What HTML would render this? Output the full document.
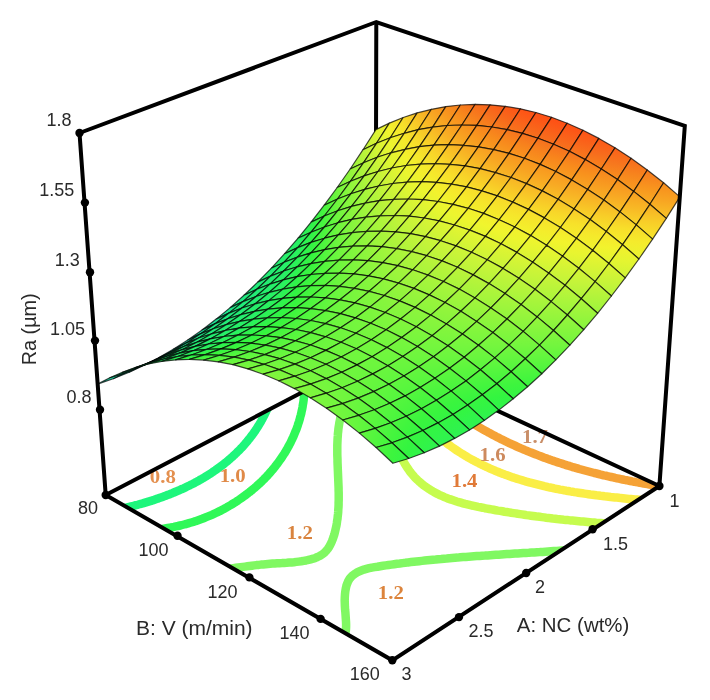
<!DOCTYPE html>
<html><head><meta charset="utf-8"><style>
html,body{margin:0;padding:0;background:#fff;}
svg{display:block;filter:blur(0.35px);}
</style></head><body>
<svg width="710" height="700" viewBox="0 0 710 700">
<rect width="710" height="700" fill="#fff"/>
<clipPath id="floor"><polygon points="105.7,495 392.3,660.3 659.4,486 375.5,354"/></clipPath>
<g fill="none" stroke-width="8.5" stroke-linecap="butt" stroke-linejoin="round" clip-path="url(#floor)">
<path d="M121.6,508.9 L129.3,506.9 L131.0,506.5 L132.7,506.1 L134.3,505.7 L136.0,505.2 L137.7,504.8 L139.3,504.3 L141.0,503.8 L142.7,503.4 L144.3,502.9 L146.0,502.4 L147.6,501.9 L149.3,501.4 L151.0,500.9 L152.6,500.3 L154.3,499.8 L155.9,499.2 L157.6,498.7 L159.2,498.1 L160.9,497.5 L162.5,496.9 L164.2,496.3 L165.8,495.7 L167.4,495.1 L169.1,494.5 L170.7,493.8 L172.3,493.2 L173.9,492.5 L175.6,491.8 L177.2,491.1 L178.8,490.5 L180.4,489.7 L182.0,489.0 L183.6,488.3 L185.1,487.6 L186.7,486.8 L188.3,486.0 L189.8,485.3 L191.4,484.5 L193.0,483.7 L194.5,482.9 L196.0,482.1 L197.6,481.2 L199.1,480.4 L200.6,479.5 L202.1,478.7 L203.6,477.8 L205.1,476.9 L206.6,476.0 L208.0,475.1 L209.5,474.2 L211.0,473.2 L212.4,472.3 L213.8,471.3 L215.3,470.3 L216.7,469.3 L218.1,468.3 L219.5,467.3 L220.9,466.3 L222.2,465.2 L223.6,464.2 L224.9,463.1 L226.3,462.0 L227.6,460.9 L228.9,459.8 L230.2,458.7 L231.5,457.5 L232.8,456.4 L234.1,455.2 L235.3,454.0 L236.6,452.8 L237.8,451.6 L239.0,450.4 L240.2,449.2 L241.4,447.9 L242.6,446.7 L243.7,445.4 L244.9,444.1 L246.0,442.8 L247.1,441.5 L248.2,440.1 L249.3,438.8 L250.4,437.4 L251.4,436.0 L252.5,434.6 L253.5,433.2 L254.5,431.8 L255.5,430.3 L256.5,428.9 L257.4,427.4 L258.4,425.9 L259.3,424.4 L260.2,422.9 L261.1,421.3 L261.9,419.8 L262.8,418.2 L263.6,416.6 L264.4,415.0 L265.2,413.4 L266.0,411.7 L269.5,404.5" stroke="#1ef67c"/>
<path d="M159.9,529.4 L167.8,528.0 L169.8,527.6 L171.9,527.3 L173.9,526.9 L176.0,526.4 L178.0,526.0 L180.1,525.5 L182.1,525.0 L184.1,524.5 L186.2,524.0 L188.2,523.4 L190.2,522.8 L192.2,522.2 L194.2,521.6 L196.2,520.9 L198.2,520.2 L200.2,519.5 L202.2,518.8 L204.2,518.0 L206.1,517.2 L208.1,516.4 L210.0,515.6 L211.9,514.8 L213.9,513.9 L215.8,513.0 L217.7,512.1 L219.6,511.2 L221.4,510.2 L223.3,509.2 L225.1,508.2 L227.0,507.2 L228.8,506.1 L230.6,505.1 L232.4,504.0 L234.2,502.9 L236.0,501.8 L237.8,500.6 L239.5,499.4 L241.2,498.2 L242.9,497.0 L244.6,495.8 L246.3,494.5 L248.0,493.3 L249.6,492.0 L251.3,490.7 L252.9,489.3 L254.5,488.0 L256.1,486.6 L257.6,485.2 L259.2,483.8 L260.7,482.4 L262.2,480.9 L263.7,479.5 L265.1,478.0 L266.6,476.5 L268.0,475.0 L269.4,473.4 L270.7,471.9 L272.1,470.3 L273.4,468.7 L274.7,467.1 L276.0,465.4 L277.3,463.8 L278.5,462.1 L279.7,460.4 L280.9,458.7 L282.1,457.0 L283.2,455.3 L284.4,453.5 L285.4,451.8 L286.5,450.0 L287.5,448.2 L288.5,446.4 L289.5,444.5 L290.5,442.7 L291.4,440.8 L292.3,438.9 L293.2,437.0 L294.0,435.1 L294.8,433.2 L295.6,431.2 L296.4,429.3 L297.1,427.3 L297.8,425.3 L298.4,423.3 L299.1,421.3 L299.7,419.3 L300.2,417.2 L300.8,415.1 L301.3,413.1 L301.7,411.0 L302.2,408.9 L302.6,406.7 L302.9,404.6 L303.3,402.5 L303.6,400.3 L303.8,398.1 L304.1,395.9 L304.3,393.7 L304.4,391.5 L305.0,383.5" stroke="#30f858"/>
<path d="M341.3,412.3 L339.9,420.2 L339.4,422.4 L339.1,424.6 L338.7,426.9 L338.4,429.1 L338.2,431.4 L337.9,433.7 L337.8,436.0 L337.6,438.3 L337.5,440.6 L337.4,442.9 L337.3,445.3 L337.3,447.6 L337.3,450.0 L337.3,452.3 L337.3,454.7 L337.4,457.1 L337.5,459.4 L337.5,461.8 L337.6,464.2 L337.7,466.6 L337.8,469.0 L337.9,471.4 L338.0,473.8 L338.1,476.2 L338.2,478.6 L338.3,481.0 L338.4,483.4 L338.5,485.8 L338.6,488.2 L338.6,490.5 L338.7,492.9 L338.7,495.3 L338.7,497.7 L338.7,500.1 L338.6,502.4 L338.6,504.8 L338.5,507.2 L338.3,509.5 L338.2,511.8 L338.0,514.2 L337.7,516.5 L337.5,518.8 L337.1,521.1 L336.8,523.4 L336.4,525.7 L335.9,527.9 L335.4,530.2 L334.9,532.4 L334.3,534.6 L333.6,536.8 L332.8,539.0 L332.0,541.1 L331.1,543.2 L330.1,545.2 L329.0,547.1 L327.8,548.9 L326.4,550.6 L324.9,552.2 L323.3,553.6 L321.5,554.9 L319.6,556.0 L317.5,557.0 L315.4,557.9 L313.1,558.7 L310.8,559.3 L308.5,559.9 L306.1,560.5 L303.7,560.9 L301.3,561.3 L298.8,561.6 L296.4,561.9 L294.0,562.2 L291.6,562.4 L289.2,562.6 L286.7,562.8 L284.3,562.9 L282.0,563.1 L279.6,563.2 L277.2,563.3 L274.8,563.5 L272.5,563.6 L270.2,563.8 L267.9,564.0 L265.6,564.2 L263.3,564.4 L261.0,564.6 L258.7,564.9 L256.5,565.1 L254.2,565.4 L251.9,565.7 L249.7,566.0 L247.4,566.3 L245.1,566.6 L242.8,566.9 L240.4,567.2 L238.1,567.5 L235.7,567.8 L233.3,568.1 L230.9,568.4 L223.0,569.5" stroke="#80f862"/>
<path d="M344.2,641.7 L345.3,633.8 L345.7,631.7 L346.0,629.3 L346.1,626.8 L346.1,624.2 L346.0,621.5 L345.8,618.6 L345.6,615.7 L345.4,612.7 L345.1,609.7 L344.9,606.6 L344.8,603.5 L344.7,600.4 L344.8,597.3 L345.0,594.3 L345.3,591.4 L345.8,588.5 L346.4,585.8 L347.3,583.3 L348.3,580.9 L349.6,578.8 L351.1,577.0 L352.8,575.3 L354.8,573.8 L356.8,572.6 L359.0,571.4 L361.4,570.5 L363.9,569.6 L366.4,568.9 L369.1,568.2 L371.8,567.6 L374.6,567.1 L377.4,566.7 L380.2,566.2 L383.0,565.8 L385.8,565.4 L388.6,565.0 L391.4,564.6 L394.2,564.2 L397.0,563.8 L399.8,563.5 L402.6,563.1 L405.3,562.8 L408.1,562.4 L410.9,562.1 L413.7,561.8 L416.4,561.5 L419.2,561.2 L421.9,560.9 L424.7,560.6 L427.4,560.3 L430.2,560.0 L432.9,559.7 L435.7,559.5 L438.4,559.2 L441.2,559.0 L443.9,558.7 L446.7,558.5 L449.4,558.2 L452.1,558.0 L454.9,557.8 L457.6,557.6 L460.3,557.3 L463.1,557.1 L465.8,556.9 L468.5,556.7 L471.3,556.5 L474.0,556.3 L476.7,556.1 L479.5,555.9 L482.2,555.7 L484.9,555.6 L487.7,555.4 L490.4,555.2 L493.1,555.0 L495.9,554.8 L498.6,554.7 L501.3,554.5 L504.1,554.3 L506.8,554.1 L509.6,554.0 L512.3,553.8 L515.0,553.6 L517.8,553.5 L520.5,553.3 L523.3,553.1 L526.0,552.9 L528.8,552.8 L531.6,552.6 L534.3,552.4 L537.1,552.2 L539.8,552.1 L542.6,551.9 L545.4,551.7 L548.2,551.5 L550.9,551.3 L553.7,551.1 L556.5,550.9 L559.3,550.7 L562.1,550.5 L570.1,550.0" stroke="#80f862"/>
<path d="M398.8,452.8 L402.7,459.8 L403.8,462.0 L405.0,464.1 L406.2,466.1 L407.5,468.0 L408.8,469.9 L410.1,471.8 L411.5,473.5 L413.0,475.2 L414.4,476.9 L415.9,478.4 L417.5,480.0 L419.1,481.5 L420.7,482.9 L422.3,484.2 L424.0,485.6 L425.7,486.8 L427.5,488.0 L429.3,489.2 L431.1,490.3 L432.9,491.4 L434.8,492.5 L436.6,493.5 L438.6,494.4 L440.5,495.4 L442.4,496.2 L444.4,497.1 L446.4,497.9 L448.4,498.7 L450.5,499.4 L452.5,500.1 L454.6,500.8 L456.7,501.5 L458.8,502.1 L460.9,502.7 L463.0,503.3 L465.2,503.9 L467.3,504.4 L469.5,504.9 L471.7,505.5 L473.8,505.9 L476.0,506.4 L478.2,506.9 L480.4,507.3 L482.6,507.7 L484.8,508.2 L487.0,508.6 L489.2,509.0 L491.4,509.4 L493.6,509.8 L495.8,510.2 L498.0,510.6 L500.2,510.9 L502.4,511.3 L504.6,511.7 L506.8,512.0 L509.0,512.4 L511.2,512.8 L513.4,513.1 L515.6,513.4 L517.8,513.8 L520.0,514.1 L522.1,514.4 L524.3,514.7 L526.5,515.1 L528.7,515.4 L530.9,515.7 L533.1,516.0 L535.3,516.3 L537.5,516.6 L539.7,516.8 L541.8,517.1 L544.0,517.4 L546.2,517.7 L548.4,517.9 L550.6,518.2 L552.8,518.5 L555.0,518.7 L557.1,519.0 L559.3,519.2 L561.5,519.4 L563.7,519.7 L565.9,519.9 L568.0,520.1 L570.2,520.4 L572.4,520.6 L574.6,520.8 L576.7,521.0 L578.9,521.2 L581.1,521.4 L583.3,521.6 L585.4,521.8 L587.6,522.0 L589.8,522.2 L591.9,522.4 L594.1,522.6 L596.3,522.8 L598.4,522.9 L600.6,523.1 L602.8,523.3 L610.8,523.9" stroke="#c6fc4e"/>
<path d="M439.6,437.9 L446.0,442.7 L447.7,444.0 L449.4,445.2 L451.0,446.4 L452.7,447.6 L454.4,448.8 L456.1,450.0 L457.9,451.1 L459.6,452.2 L461.3,453.3 L463.1,454.4 L464.8,455.5 L466.6,456.5 L468.3,457.6 L470.1,458.6 L471.9,459.6 L473.7,460.5 L475.5,461.5 L477.3,462.4 L479.1,463.4 L480.9,464.3 L482.7,465.2 L484.6,466.0 L486.4,466.9 L488.2,467.7 L490.1,468.6 L491.9,469.4 L493.8,470.2 L495.7,471.0 L497.6,471.7 L499.4,472.5 L501.3,473.2 L503.2,473.9 L505.1,474.7 L507.0,475.3 L508.9,476.0 L510.9,476.7 L512.8,477.4 L514.7,478.0 L516.6,478.6 L518.6,479.2 L520.5,479.8 L522.5,480.4 L524.4,481.0 L526.4,481.6 L528.3,482.1 L530.3,482.7 L532.3,483.2 L534.2,483.7 L536.2,484.2 L538.2,484.7 L540.2,485.2 L542.2,485.7 L544.1,486.2 L546.1,486.6 L548.1,487.1 L550.1,487.5 L552.1,487.9 L554.1,488.4 L556.1,488.8 L558.1,489.2 L560.1,489.6 L562.2,489.9 L564.2,490.3 L566.2,490.7 L568.2,491.0 L570.2,491.4 L572.2,491.7 L574.3,492.1 L576.3,492.4 L578.3,492.7 L580.3,493.0 L582.4,493.3 L584.4,493.6 L586.4,493.9 L588.4,494.2 L590.5,494.5 L592.5,494.7 L594.5,495.0 L596.5,495.3 L598.6,495.5 L600.6,495.8 L602.6,496.0 L604.6,496.3 L606.7,496.5 L608.7,496.7 L610.7,497.0 L612.7,497.2 L614.8,497.4 L616.8,497.6 L618.8,497.8 L620.8,498.1 L622.8,498.3 L624.9,498.5 L626.9,498.7 L628.9,498.9 L630.9,499.1 L632.9,499.3 L634.9,499.5 L636.9,499.6 L644.9,500.4" stroke="#faee46"/>
<path d="M469.2,421.2 L476.0,425.3 L477.7,426.3 L479.4,427.3 L481.1,428.3 L482.8,429.3 L484.5,430.3 L486.2,431.2 L487.9,432.2 L489.6,433.1 L491.3,434.0 L493.0,434.9 L494.7,435.8 L496.4,436.7 L498.2,437.6 L499.9,438.5 L501.6,439.4 L503.4,440.2 L505.1,441.1 L506.9,441.9 L508.6,442.8 L510.4,443.6 L512.1,444.4 L513.9,445.2 L515.7,446.0 L517.4,446.8 L519.2,447.6 L521.0,448.4 L522.7,449.1 L524.5,449.9 L526.3,450.6 L528.1,451.4 L529.9,452.1 L531.7,452.8 L533.5,453.5 L535.3,454.2 L537.1,454.9 L538.9,455.6 L540.7,456.3 L542.5,457.0 L544.3,457.7 L546.1,458.3 L548.0,459.0 L549.8,459.6 L551.6,460.3 L553.4,460.9 L555.3,461.5 L557.1,462.1 L558.9,462.7 L560.8,463.3 L562.6,463.9 L564.5,464.5 L566.3,465.1 L568.2,465.7 L570.0,466.2 L571.9,466.8 L573.7,467.3 L575.6,467.9 L577.4,468.4 L579.3,469.0 L581.2,469.5 L583.0,470.0 L584.9,470.5 L586.8,471.0 L588.7,471.5 L590.5,472.0 L592.4,472.5 L594.3,473.0 L596.2,473.4 L598.0,473.9 L599.9,474.4 L601.8,474.8 L603.7,475.3 L605.6,475.7 L607.5,476.2 L609.4,476.6 L611.3,477.0 L613.2,477.4 L615.1,477.9 L617.0,478.3 L618.9,478.7 L620.8,479.1 L622.7,479.5 L624.6,479.9 L626.5,480.2 L628.4,480.6 L630.3,481.0 L632.2,481.4 L634.1,481.7 L636.0,482.1 L637.9,482.4 L639.8,482.8 L641.7,483.1 L643.7,483.5 L645.6,483.8 L647.5,484.1 L649.4,484.5 L651.3,484.8 L653.2,485.1 L655.2,485.4 L657.1,485.7 L665.0,487.0" stroke="#f5a236"/>
</g>
<g font-family="Liberation Serif, serif" font-weight="bold" font-size="18.5" text-anchor="middle" fill="#de8744">
<text x="162.8" y="483.4" fill="#e4904f" textLength="26" lengthAdjust="spacingAndGlyphs">0.8</text>
<text x="232.7" y="482.3" fill="#e08a48" textLength="26" lengthAdjust="spacingAndGlyphs">1.0</text>
<text x="299.8" y="538.9" fill="#d9843f" textLength="26" lengthAdjust="spacingAndGlyphs">1.2</text>
<text x="390.8" y="598.6" fill="#dc843c" textLength="26" lengthAdjust="spacingAndGlyphs">1.2</text>
<text x="464.5" y="487.0" fill="#e07a38" textLength="26" lengthAdjust="spacingAndGlyphs">1.4</text>
<text x="492.6" y="461.4" fill="#cd8a5e" textLength="26" lengthAdjust="spacingAndGlyphs">1.6</text>
<text x="535.0" y="442.8" fill="#c98e68" textLength="26" lengthAdjust="spacingAndGlyphs">1.7</text>
</g>
<path d="M105.7,495.0 L375.5,354.0 L659.4,486.0 M376.3,22.0 L375.5,354.0" stroke="#000" stroke-width="4.0" fill="none" stroke-linejoin="miter"/>
<g stroke="#000" stroke-opacity="0.72" stroke-width="1.2" stroke-linejoin="round">
<defs><linearGradient id="q0" gradientUnits="userSpaceOnUse" x1="360.3" y1="142.1" x2="392.2" y2="130.7"><stop offset="0.00" stop-color="#b9f43a"/><stop offset="0.50" stop-color="#daf434"/><stop offset="1.00" stop-color="#f4ef2c"/></linearGradient>
<linearGradient id="q1" gradientUnits="userSpaceOnUse" x1="347.9" y1="160.1" x2="378.8" y2="152.2"><stop offset="0.00" stop-color="#94f53c"/><stop offset="0.50" stop-color="#b6f43b"/><stop offset="1.00" stop-color="#d6f435"/></linearGradient>
<linearGradient id="q2" gradientUnits="userSpaceOnUse" x1="335.7" y1="177.3" x2="365.1" y2="172.9"><stop offset="0.00" stop-color="#71f63e"/><stop offset="0.50" stop-color="#92f53c"/><stop offset="1.00" stop-color="#b3f43b"/></linearGradient>
<linearGradient id="q3" gradientUnits="userSpaceOnUse" x1="323.7" y1="193.8" x2="351.1" y2="192.6"><stop offset="0.00" stop-color="#46f53e"/><stop offset="0.50" stop-color="#70f63e"/><stop offset="1.00" stop-color="#90f53c"/></linearGradient>
<linearGradient id="q4" gradientUnits="userSpaceOnUse" x1="374.0" y1="138.0" x2="405.8" y2="122.8"><stop offset="0.00" stop-color="#d6f435"/><stop offset="0.50" stop-color="#f3f22d"/><stop offset="1.00" stop-color="#f8d929"/></linearGradient>
<linearGradient id="q5" gradientUnits="userSpaceOnUse" x1="311.9" y1="209.8" x2="336.7" y2="211.4"><stop offset="0.00" stop-color="#2ff34d"/><stop offset="0.50" stop-color="#47f53e"/><stop offset="1.00" stop-color="#70f63e"/></linearGradient>
<linearGradient id="q6" gradientUnits="userSpaceOnUse" x1="361.2" y1="156.1" x2="392.7" y2="144.4"><stop offset="0.00" stop-color="#b3f43b"/><stop offset="0.50" stop-color="#d3f436"/><stop offset="1.00" stop-color="#f1f52d"/></linearGradient>
<linearGradient id="q7" gradientUnits="userSpaceOnUse" x1="348.5" y1="173.3" x2="379.3" y2="165.2"><stop offset="0.00" stop-color="#90f53c"/><stop offset="0.50" stop-color="#b0f43b"/><stop offset="1.00" stop-color="#cff437"/></linearGradient>
<linearGradient id="q8" gradientUnits="userSpaceOnUse" x1="300.2" y1="225.2" x2="322.0" y2="229.1"><stop offset="0.00" stop-color="#28f065"/><stop offset="0.50" stop-color="#30f34b"/><stop offset="1.00" stop-color="#48f53e"/></linearGradient>
<linearGradient id="q9" gradientUnits="userSpaceOnUse" x1="336.1" y1="189.8" x2="365.6" y2="185.2"><stop offset="0.00" stop-color="#70f63e"/><stop offset="0.50" stop-color="#8ff53c"/><stop offset="1.00" stop-color="#adf53b"/></linearGradient>
<linearGradient id="q10" gradientUnits="userSpaceOnUse" x1="388.4" y1="134.8" x2="419.1" y2="116.0"><stop offset="0.00" stop-color="#f1f52d"/><stop offset="0.50" stop-color="#f7e02a"/><stop offset="1.00" stop-color="#f8bb26"/></linearGradient>
<linearGradient id="q11" gradientUnits="userSpaceOnUse" x1="288.6" y1="240.2" x2="307.1" y2="245.7"><stop offset="0.00" stop-color="#25ee6e"/><stop offset="0.50" stop-color="#28f063"/><stop offset="1.00" stop-color="#30f449"/></linearGradient>
<linearGradient id="q12" gradientUnits="userSpaceOnUse" x1="375.2" y1="153.1" x2="406.3" y2="137.4"><stop offset="0.00" stop-color="#cff437"/><stop offset="0.50" stop-color="#ecf52f"/><stop offset="1.00" stop-color="#f6e42b"/></linearGradient>
<linearGradient id="q13" gradientUnits="userSpaceOnUse" x1="323.9" y1="205.5" x2="351.5" y2="204.3"><stop offset="0.00" stop-color="#48f53e"/><stop offset="0.50" stop-color="#70f63e"/><stop offset="1.00" stop-color="#8df53d"/></linearGradient>
<linearGradient id="q14" gradientUnits="userSpaceOnUse" x1="276.8" y1="254.8" x2="292.1" y2="261.1"><stop offset="0.00" stop-color="#23ed76"/><stop offset="0.50" stop-color="#26ef6c"/><stop offset="1.00" stop-color="#29f160"/></linearGradient>
<linearGradient id="q15" gradientUnits="userSpaceOnUse" x1="362.0" y1="170.5" x2="393.2" y2="158.2"><stop offset="0.00" stop-color="#adf53b"/><stop offset="0.50" stop-color="#cbf438"/><stop offset="1.00" stop-color="#e7f530"/></linearGradient>
<linearGradient id="q16" gradientUnits="userSpaceOnUse" x1="311.9" y1="220.6" x2="336.9" y2="222.4"><stop offset="0.00" stop-color="#30f449"/><stop offset="0.50" stop-color="#4af53e"/><stop offset="1.00" stop-color="#70f63e"/></linearGradient>
<linearGradient id="q17" gradientUnits="userSpaceOnUse" x1="349.1" y1="186.9" x2="379.9" y2="178.3"><stop offset="0.00" stop-color="#8df53d"/><stop offset="0.50" stop-color="#abf53b"/><stop offset="1.00" stop-color="#c7f439"/></linearGradient>
<linearGradient id="q18" gradientUnits="userSpaceOnUse" x1="403.4" y1="132.2" x2="432.2" y2="110.3"><stop offset="0.00" stop-color="#f6e42b"/><stop offset="0.50" stop-color="#f8c527"/><stop offset="1.00" stop-color="#f8a222"/></linearGradient>
<linearGradient id="q19" gradientUnits="userSpaceOnUse" x1="264.8" y1="268.9" x2="277.0" y2="275.5"><stop offset="0.00" stop-color="#21ec7d"/><stop offset="0.50" stop-color="#24ed74"/><stop offset="1.00" stop-color="#26ef6a"/></linearGradient>
<linearGradient id="q20" gradientUnits="userSpaceOnUse" x1="300.1" y1="235.2" x2="322.0" y2="239.4"><stop offset="0.00" stop-color="#29f160"/><stop offset="0.50" stop-color="#31f447"/><stop offset="1.00" stop-color="#4bf53e"/></linearGradient>
<linearGradient id="q21" gradientUnits="userSpaceOnUse" x1="389.9" y1="150.8" x2="419.6" y2="131.6"><stop offset="0.00" stop-color="#e7f530"/><stop offset="0.50" stop-color="#f5e92b"/><stop offset="1.00" stop-color="#f8ce28"/></linearGradient>
<linearGradient id="q22" gradientUnits="userSpaceOnUse" x1="336.4" y1="202.5" x2="366.1" y2="197.7"><stop offset="0.00" stop-color="#70f63e"/><stop offset="0.50" stop-color="#8cf53d"/><stop offset="1.00" stop-color="#a8f53b"/></linearGradient>
<linearGradient id="q23" gradientUnits="userSpaceOnUse" x1="252.6" y1="282.5" x2="262.0" y2="288.9"><stop offset="0.00" stop-color="#20e985"/><stop offset="0.50" stop-color="#22ec7a"/><stop offset="1.00" stop-color="#24ee71"/></linearGradient>
<linearGradient id="q24" gradientUnits="userSpaceOnUse" x1="376.4" y1="168.5" x2="406.8" y2="152.3"><stop offset="0.00" stop-color="#c7f439"/><stop offset="0.50" stop-color="#e2f531"/><stop offset="1.00" stop-color="#f4ed2c"/></linearGradient>
<linearGradient id="q25" gradientUnits="userSpaceOnUse" x1="288.3" y1="249.4" x2="306.9" y2="255.3"><stop offset="0.00" stop-color="#26ef6a"/><stop offset="0.50" stop-color="#2af15c"/><stop offset="1.00" stop-color="#32f445"/></linearGradient>
<linearGradient id="q26" gradientUnits="userSpaceOnUse" x1="324.1" y1="217.3" x2="351.9" y2="216.1"><stop offset="0.00" stop-color="#4bf53e"/><stop offset="0.50" stop-color="#6ff63e"/><stop offset="1.00" stop-color="#8af53d"/></linearGradient>
<linearGradient id="q27" gradientUnits="userSpaceOnUse" x1="418.9" y1="130.3" x2="445.3" y2="106.0"><stop offset="0.00" stop-color="#f8ce28"/><stop offset="0.50" stop-color="#f8ab24"/><stop offset="1.00" stop-color="#f88f1d"/></linearGradient>
<linearGradient id="q28" gradientUnits="userSpaceOnUse" x1="363.0" y1="185.1" x2="393.8" y2="172.3"><stop offset="0.00" stop-color="#a8f53b"/><stop offset="0.50" stop-color="#c3f43a"/><stop offset="1.00" stop-color="#ddf533"/></linearGradient>
<linearGradient id="q29" gradientUnits="userSpaceOnUse" x1="240.0" y1="295.5" x2="247.0" y2="301.3"><stop offset="0.00" stop-color="#20e392"/><stop offset="0.50" stop-color="#20eb80"/><stop offset="1.00" stop-color="#23ed78"/></linearGradient>
<linearGradient id="q30" gradientUnits="userSpaceOnUse" x1="276.5" y1="263.2" x2="291.6" y2="270.1"><stop offset="0.00" stop-color="#24ee71"/><stop offset="0.50" stop-color="#27ef69"/><stop offset="1.00" stop-color="#2bf159"/></linearGradient>
<linearGradient id="q31" gradientUnits="userSpaceOnUse" x1="311.9" y1="231.5" x2="337.2" y2="233.6"><stop offset="0.00" stop-color="#32f445"/><stop offset="0.50" stop-color="#4df53e"/><stop offset="1.00" stop-color="#6ff63e"/></linearGradient>
<linearGradient id="q32" gradientUnits="userSpaceOnUse" x1="405.1" y1="149.2" x2="432.7" y2="127.1"><stop offset="0.00" stop-color="#f4ed2c"/><stop offset="0.50" stop-color="#f8d729"/><stop offset="1.00" stop-color="#f8b625"/></linearGradient>
<linearGradient id="q33" gradientUnits="userSpaceOnUse" x1="349.8" y1="200.7" x2="380.4" y2="191.7"><stop offset="0.00" stop-color="#8af53d"/><stop offset="0.50" stop-color="#a5f53b"/><stop offset="1.00" stop-color="#c0f43a"/></linearGradient>
<linearGradient id="q34" gradientUnits="userSpaceOnUse" x1="391.4" y1="167.2" x2="420.0" y2="147.6"><stop offset="0.00" stop-color="#ddf533"/><stop offset="0.50" stop-color="#f3f22d"/><stop offset="1.00" stop-color="#f8df2a"/></linearGradient>
<linearGradient id="q35" gradientUnits="userSpaceOnUse" x1="264.4" y1="276.6" x2="276.3" y2="283.7"><stop offset="0.00" stop-color="#23ed78"/><stop offset="0.50" stop-color="#25ee6f"/><stop offset="1.00" stop-color="#27f067"/></linearGradient>
<linearGradient id="q36" gradientUnits="userSpaceOnUse" x1="300.0" y1="245.3" x2="322.0" y2="250.0"><stop offset="0.00" stop-color="#2bf159"/><stop offset="0.50" stop-color="#32f443"/><stop offset="1.00" stop-color="#4ef53e"/></linearGradient>
<linearGradient id="q37" gradientUnits="userSpaceOnUse" x1="227.1" y1="307.9" x2="232.1" y2="312.8"><stop offset="0.00" stop-color="#1fdd9d"/><stop offset="0.50" stop-color="#20e78a"/><stop offset="1.00" stop-color="#21ec7d"/></linearGradient>
<linearGradient id="q38" gradientUnits="userSpaceOnUse" x1="336.8" y1="215.4" x2="366.6" y2="210.4"><stop offset="0.00" stop-color="#6ff63e"/><stop offset="0.50" stop-color="#89f53d"/><stop offset="1.00" stop-color="#a2f53c"/></linearGradient>
<linearGradient id="q39" gradientUnits="userSpaceOnUse" x1="434.7" y1="129.0" x2="458.4" y2="103.1"><stop offset="0.00" stop-color="#f8b625"/><stop offset="0.50" stop-color="#f8991f"/><stop offset="1.00" stop-color="#f77d1d"/></linearGradient>
<linearGradient id="q40" gradientUnits="userSpaceOnUse" x1="377.7" y1="184.1" x2="407.2" y2="167.4"><stop offset="0.00" stop-color="#c0f43a"/><stop offset="0.50" stop-color="#d8f434"/><stop offset="1.00" stop-color="#f0f52d"/></linearGradient>
<linearGradient id="q41" gradientUnits="userSpaceOnUse" x1="288.2" y1="258.7" x2="306.6" y2="265.2"><stop offset="0.00" stop-color="#27f067"/><stop offset="0.50" stop-color="#2cf256"/><stop offset="1.00" stop-color="#33f541"/></linearGradient>
<linearGradient id="q42" gradientUnits="userSpaceOnUse" x1="420.9" y1="148.2" x2="445.7" y2="124.0"><stop offset="0.00" stop-color="#f8df2a"/><stop offset="0.50" stop-color="#f8c126"/><stop offset="1.00" stop-color="#f8a322"/></linearGradient>
<linearGradient id="q43" gradientUnits="userSpaceOnUse" x1="252.0" y1="289.5" x2="261.1" y2="296.2"><stop offset="0.00" stop-color="#21ec7d"/><stop offset="0.50" stop-color="#23ed75"/><stop offset="1.00" stop-color="#26ee6d"/></linearGradient>
<linearGradient id="q44" gradientUnits="userSpaceOnUse" x1="324.2" y1="229.4" x2="352.3" y2="228.3"><stop offset="0.00" stop-color="#4ef53e"/><stop offset="0.50" stop-color="#6ff63e"/><stop offset="1.00" stop-color="#87f53d"/></linearGradient>
<linearGradient id="q45" gradientUnits="userSpaceOnUse" x1="213.8" y1="319.6" x2="217.3" y2="323.5"><stop offset="0.00" stop-color="#1fd9a6"/><stop offset="0.50" stop-color="#1fe294"/><stop offset="1.00" stop-color="#20eb82"/></linearGradient>
<linearGradient id="q46" gradientUnits="userSpaceOnUse" x1="364.0" y1="200.0" x2="394.2" y2="186.7"><stop offset="0.00" stop-color="#a2f53c"/><stop offset="0.50" stop-color="#bbf43a"/><stop offset="1.00" stop-color="#d3f436"/></linearGradient>
<linearGradient id="q47" gradientUnits="userSpaceOnUse" x1="407.0" y1="166.5" x2="433.1" y2="144.3"><stop offset="0.00" stop-color="#f0f52d"/><stop offset="0.50" stop-color="#f6e52b"/><stop offset="1.00" stop-color="#f8cb28"/></linearGradient>
<linearGradient id="q48" gradientUnits="userSpaceOnUse" x1="312.0" y1="242.7" x2="337.4" y2="245.2"><stop offset="0.00" stop-color="#33f541"/><stop offset="0.50" stop-color="#50f53e"/><stop offset="1.00" stop-color="#6ff63e"/></linearGradient>
<linearGradient id="q49" gradientUnits="userSpaceOnUse" x1="276.2" y1="271.8" x2="291.1" y2="279.2"><stop offset="0.00" stop-color="#26ee6d"/><stop offset="0.50" stop-color="#28f065"/><stop offset="1.00" stop-color="#2ef253"/></linearGradient>
<linearGradient id="q50" gradientUnits="userSpaceOnUse" x1="350.5" y1="214.8" x2="380.9" y2="205.3"><stop offset="0.00" stop-color="#87f53d"/><stop offset="0.50" stop-color="#a0f53c"/><stop offset="1.00" stop-color="#b8f43b"/></linearGradient>
<linearGradient id="q51" gradientUnits="userSpaceOnUse" x1="450.7" y1="128.3" x2="471.6" y2="101.6"><stop offset="0.00" stop-color="#f8a322"/><stop offset="0.50" stop-color="#f88a1c"/><stop offset="1.00" stop-color="#f76d1d"/></linearGradient>
<linearGradient id="q52" gradientUnits="userSpaceOnUse" x1="239.2" y1="301.8" x2="245.9" y2="307.8"><stop offset="0.00" stop-color="#20eb82"/><stop offset="0.50" stop-color="#22ec7a"/><stop offset="1.00" stop-color="#24ee72"/></linearGradient>
<linearGradient id="q53" gradientUnits="userSpaceOnUse" x1="393.1" y1="183.8" x2="420.4" y2="163.8"><stop offset="0.00" stop-color="#d3f436"/><stop offset="0.50" stop-color="#eaf52f"/><stop offset="1.00" stop-color="#f5ea2c"/></linearGradient>
<linearGradient id="q54" gradientUnits="userSpaceOnUse" x1="200.2" y1="330.5" x2="202.4" y2="333.4"><stop offset="0.00" stop-color="#1fd5ad"/><stop offset="0.50" stop-color="#1fde9c"/><stop offset="1.00" stop-color="#20e78a"/></linearGradient>
<linearGradient id="q55" gradientUnits="userSpaceOnUse" x1="436.9" y1="147.8" x2="458.9" y2="122.3"><stop offset="0.00" stop-color="#f8cb28"/><stop offset="0.50" stop-color="#f8ad24"/><stop offset="1.00" stop-color="#f8951e"/></linearGradient>
<linearGradient id="q56" gradientUnits="userSpaceOnUse" x1="300.0" y1="255.6" x2="322.0" y2="260.9"><stop offset="0.00" stop-color="#2ef253"/><stop offset="0.50" stop-color="#34f53f"/><stop offset="1.00" stop-color="#51f63e"/></linearGradient>
<linearGradient id="q57" gradientUnits="userSpaceOnUse" x1="337.2" y1="228.7" x2="367.1" y2="223.3"><stop offset="0.00" stop-color="#6ff63e"/><stop offset="0.50" stop-color="#86f53d"/><stop offset="1.00" stop-color="#9df53c"/></linearGradient>
<linearGradient id="q58" gradientUnits="userSpaceOnUse" x1="264.0" y1="284.4" x2="275.5" y2="292.0"><stop offset="0.00" stop-color="#24ee72"/><stop offset="0.50" stop-color="#26ef6b"/><stop offset="1.00" stop-color="#29f062"/></linearGradient>
<linearGradient id="q59" gradientUnits="userSpaceOnUse" x1="379.0" y1="200.1" x2="407.6" y2="182.8"><stop offset="0.00" stop-color="#b8f43b"/><stop offset="0.50" stop-color="#cef437"/><stop offset="1.00" stop-color="#e4f531"/></linearGradient>
<linearGradient id="q60" gradientUnits="userSpaceOnUse" x1="226.1" y1="313.5" x2="230.7" y2="318.5"><stop offset="0.00" stop-color="#20e78b"/><stop offset="0.50" stop-color="#21ec7e"/><stop offset="1.00" stop-color="#23ed77"/></linearGradient>
<linearGradient id="q61" gradientUnits="userSpaceOnUse" x1="423.0" y1="166.4" x2="446.2" y2="142.4"><stop offset="0.00" stop-color="#f5ea2c"/><stop offset="0.50" stop-color="#f8d629"/><stop offset="1.00" stop-color="#f8b926"/></linearGradient>
<linearGradient id="q62" gradientUnits="userSpaceOnUse" x1="186.2" y1="340.6" x2="187.5" y2="342.6"><stop offset="0.00" stop-color="#1fd3b2"/><stop offset="0.50" stop-color="#1fdba2"/><stop offset="1.00" stop-color="#20e391"/></linearGradient>
<linearGradient id="q63" gradientUnits="userSpaceOnUse" x1="467.0" y1="128.3" x2="485.0" y2="101.4"><stop offset="0.00" stop-color="#f8951e"/><stop offset="0.50" stop-color="#f77a1d"/><stop offset="1.00" stop-color="#fa621a"/></linearGradient>
<linearGradient id="q64" gradientUnits="userSpaceOnUse" x1="324.4" y1="241.7" x2="352.7" y2="240.6"><stop offset="0.00" stop-color="#51f63e"/><stop offset="0.50" stop-color="#6ff63e"/><stop offset="1.00" stop-color="#85f53d"/></linearGradient>
<linearGradient id="q65" gradientUnits="userSpaceOnUse" x1="365.1" y1="215.2" x2="394.6" y2="201.2"><stop offset="0.00" stop-color="#9df53c"/><stop offset="0.50" stop-color="#b3f43b"/><stop offset="1.00" stop-color="#caf438"/></linearGradient>
<linearGradient id="q66" gradientUnits="userSpaceOnUse" x1="288.1" y1="268.2" x2="306.3" y2="275.4"><stop offset="0.00" stop-color="#29f062"/><stop offset="0.50" stop-color="#2ff34f"/><stop offset="1.00" stop-color="#36f53e"/></linearGradient>
<linearGradient id="q67" gradientUnits="userSpaceOnUse" x1="409.0" y1="184.1" x2="433.4" y2="161.7"><stop offset="0.00" stop-color="#e4f531"/><stop offset="0.50" stop-color="#f3ef2c"/><stop offset="1.00" stop-color="#f8e02a"/></linearGradient>
<linearGradient id="q68" gradientUnits="userSpaceOnUse" x1="251.5" y1="296.6" x2="260.0" y2="303.7"><stop offset="0.00" stop-color="#23ed77"/><stop offset="0.50" stop-color="#25ee70"/><stop offset="1.00" stop-color="#27ef69"/></linearGradient>
<linearGradient id="q69" gradientUnits="userSpaceOnUse" x1="453.2" y1="148.1" x2="472.2" y2="122.1"><stop offset="0.00" stop-color="#f8b926"/><stop offset="0.50" stop-color="#f8a021"/><stop offset="1.00" stop-color="#f8891c"/></linearGradient>
<linearGradient id="q70" gradientUnits="userSpaceOnUse" x1="212.5" y1="324.4" x2="215.7" y2="328.4"><stop offset="0.00" stop-color="#20e391"/><stop offset="0.50" stop-color="#20eb82"/><stop offset="1.00" stop-color="#22ec7b"/></linearGradient>
<linearGradient id="q71" gradientUnits="userSpaceOnUse" x1="351.2" y1="229.2" x2="381.4" y2="219.1"><stop offset="0.00" stop-color="#85f53d"/><stop offset="0.50" stop-color="#9af53c"/><stop offset="1.00" stop-color="#b0f43b"/></linearGradient>
<linearGradient id="q72" gradientUnits="userSpaceOnUse" x1="312.0" y1="254.1" x2="337.6" y2="256.9"><stop offset="0.00" stop-color="#36f53e"/><stop offset="0.50" stop-color="#53f63e"/><stop offset="1.00" stop-color="#6ff63e"/></linearGradient>
<linearGradient id="q73" gradientUnits="userSpaceOnUse" x1="394.8" y1="200.7" x2="420.7" y2="180.4"><stop offset="0.00" stop-color="#caf438"/><stop offset="0.50" stop-color="#def533"/><stop offset="1.00" stop-color="#f2f52d"/></linearGradient>
<linearGradient id="q74" gradientUnits="userSpaceOnUse" x1="276.1" y1="280.5" x2="290.4" y2="288.5"><stop offset="0.00" stop-color="#27ef69"/><stop offset="0.50" stop-color="#2af15e"/><stop offset="1.00" stop-color="#30f34c"/></linearGradient>
<linearGradient id="q75" gradientUnits="userSpaceOnUse" x1="439.3" y1="166.9" x2="459.3" y2="142.0"><stop offset="0.00" stop-color="#f8e02a"/><stop offset="0.50" stop-color="#f8c627"/><stop offset="1.00" stop-color="#f8ab24"/></linearGradient>
<linearGradient id="q76" gradientUnits="userSpaceOnUse" x1="171.9" y1="350.0" x2="172.5" y2="351.0"><stop offset="0.00" stop-color="#1fd1b6"/><stop offset="0.50" stop-color="#1fd9a6"/><stop offset="1.00" stop-color="#1fe196"/></linearGradient>
<linearGradient id="q77" gradientUnits="userSpaceOnUse" x1="238.5" y1="308.2" x2="244.6" y2="314.4"><stop offset="0.00" stop-color="#22ec7b"/><stop offset="0.50" stop-color="#24ed74"/><stop offset="1.00" stop-color="#26ee6d"/></linearGradient>
<linearGradient id="q78" gradientUnits="userSpaceOnUse" x1="483.2" y1="129.2" x2="498.7" y2="102.5"><stop offset="0.00" stop-color="#f8891c"/><stop offset="0.50" stop-color="#f66f1e"/><stop offset="1.00" stop-color="#fc5917"/></linearGradient>
<linearGradient id="q79" gradientUnits="userSpaceOnUse" x1="380.6" y1="216.3" x2="407.9" y2="198.5"><stop offset="0.00" stop-color="#b0f43b"/><stop offset="0.50" stop-color="#c5f43a"/><stop offset="1.00" stop-color="#d8f434"/></linearGradient>
<linearGradient id="q80" gradientUnits="userSpaceOnUse" x1="337.7" y1="242.2" x2="367.6" y2="236.5"><stop offset="0.00" stop-color="#6ff63e"/><stop offset="0.50" stop-color="#83f63d"/><stop offset="1.00" stop-color="#98f53c"/></linearGradient>
<linearGradient id="q81" gradientUnits="userSpaceOnUse" x1="425.3" y1="184.9" x2="446.5" y2="161.1"><stop offset="0.00" stop-color="#f2f52d"/><stop offset="0.50" stop-color="#f6e62b"/><stop offset="1.00" stop-color="#f8d229"/></linearGradient>
<linearGradient id="q82" gradientUnits="userSpaceOnUse" x1="198.6" y1="334.5" x2="200.6" y2="337.5"><stop offset="0.00" stop-color="#1fe197"/><stop offset="0.50" stop-color="#20e887"/><stop offset="1.00" stop-color="#21ec7e"/></linearGradient>
<linearGradient id="q83" gradientUnits="userSpaceOnUse" x1="300.0" y1="266.0" x2="321.9" y2="272.0"><stop offset="0.00" stop-color="#30f34c"/><stop offset="0.50" stop-color="#3af53e"/><stop offset="1.00" stop-color="#54f63e"/></linearGradient>
<linearGradient id="q84" gradientUnits="userSpaceOnUse" x1="469.5" y1="149.1" x2="485.7" y2="123.2"><stop offset="0.00" stop-color="#f8ab24"/><stop offset="0.50" stop-color="#f8951e"/><stop offset="1.00" stop-color="#f77e1d"/></linearGradient>
<linearGradient id="q85" gradientUnits="userSpaceOnUse" x1="263.7" y1="292.5" x2="274.6" y2="300.5"><stop offset="0.00" stop-color="#26ee6d"/><stop offset="0.50" stop-color="#27f066"/><stop offset="1.00" stop-color="#2bf159"/></linearGradient>
<linearGradient id="q86" gradientUnits="userSpaceOnUse" x1="157.3" y1="358.5" x2="157.5" y2="358.7"><stop offset="0.00" stop-color="#1ed0b7"/><stop offset="0.50" stop-color="#1fd8a8"/><stop offset="1.00" stop-color="#1fe098"/></linearGradient>
<linearGradient id="q87" gradientUnits="userSpaceOnUse" x1="366.3" y1="230.8" x2="395.0" y2="216.0"><stop offset="0.00" stop-color="#98f53c"/><stop offset="0.50" stop-color="#acf53b"/><stop offset="1.00" stop-color="#c0f43a"/></linearGradient>
<linearGradient id="q88" gradientUnits="userSpaceOnUse" x1="411.1" y1="201.9" x2="433.7" y2="179.5"><stop offset="0.00" stop-color="#d8f434"/><stop offset="0.50" stop-color="#ebf52f"/><stop offset="1.00" stop-color="#f4ec2c"/></linearGradient>
<linearGradient id="q89" gradientUnits="userSpaceOnUse" x1="225.1" y1="319.2" x2="229.3" y2="324.3"><stop offset="0.00" stop-color="#21ec7e"/><stop offset="0.50" stop-color="#23ed77"/><stop offset="1.00" stop-color="#25ee71"/></linearGradient>
<linearGradient id="q90" gradientUnits="userSpaceOnUse" x1="324.6" y1="254.2" x2="353.1" y2="253.3"><stop offset="0.00" stop-color="#54f63e"/><stop offset="0.50" stop-color="#6ff63e"/><stop offset="1.00" stop-color="#82f63d"/></linearGradient>
<linearGradient id="q91" gradientUnits="userSpaceOnUse" x1="455.7" y1="168.1" x2="472.7" y2="143.0"><stop offset="0.00" stop-color="#f8d229"/><stop offset="0.50" stop-color="#f8b825"/><stop offset="1.00" stop-color="#f8a121"/></linearGradient>
<linearGradient id="q92" gradientUnits="userSpaceOnUse" x1="288.1" y1="277.8" x2="305.8" y2="285.8"><stop offset="0.00" stop-color="#2bf159"/><stop offset="0.50" stop-color="#31f449"/><stop offset="1.00" stop-color="#3df53e"/></linearGradient>
<linearGradient id="q93" gradientUnits="userSpaceOnUse" x1="499.6" y1="130.9" x2="512.7" y2="104.9"><stop offset="0.00" stop-color="#f77e1d"/><stop offset="0.50" stop-color="#f8671b"/><stop offset="1.00" stop-color="#fe5316"/></linearGradient>
<linearGradient id="q94" gradientUnits="userSpaceOnUse" x1="184.3" y1="343.9" x2="185.5" y2="345.8"><stop offset="0.00" stop-color="#1fdf9a"/><stop offset="0.50" stop-color="#20e68b"/><stop offset="1.00" stop-color="#21eb80"/></linearGradient>
<linearGradient id="q95" gradientUnits="userSpaceOnUse" x1="251.0" y1="304.0" x2="258.8" y2="311.3"><stop offset="0.00" stop-color="#25ee71"/><stop offset="0.50" stop-color="#26ef6a"/><stop offset="1.00" stop-color="#28f064"/></linearGradient>
<linearGradient id="q96" gradientUnits="userSpaceOnUse" x1="396.8" y1="217.9" x2="420.8" y2="197.2"><stop offset="0.00" stop-color="#c0f43a"/><stop offset="0.50" stop-color="#d2f436"/><stop offset="1.00" stop-color="#e4f531"/></linearGradient>
<linearGradient id="q97" gradientUnits="userSpaceOnUse" x1="441.8" y1="186.3" x2="459.7" y2="162.0"><stop offset="0.00" stop-color="#f4ec2c"/><stop offset="0.50" stop-color="#f8de2a"/><stop offset="1.00" stop-color="#f8c627"/></linearGradient>
<linearGradient id="q98" gradientUnits="userSpaceOnUse" x1="352.1" y1="244.0" x2="381.8" y2="233.2"><stop offset="0.00" stop-color="#82f63d"/><stop offset="0.50" stop-color="#95f53c"/><stop offset="1.00" stop-color="#a8f53b"/></linearGradient>
<linearGradient id="q99" gradientUnits="userSpaceOnUse" x1="486.0" y1="150.9" x2="499.5" y2="125.6"><stop offset="0.00" stop-color="#f8a121"/><stop offset="0.50" stop-color="#f88d1c"/><stop offset="1.00" stop-color="#f6761e"/></linearGradient>
<linearGradient id="q100" gradientUnits="userSpaceOnUse" x1="312.1" y1="265.6" x2="337.8" y2="269.0"><stop offset="0.00" stop-color="#3df53e"/><stop offset="0.50" stop-color="#56f63e"/><stop offset="1.00" stop-color="#6ff63e"/></linearGradient>
<linearGradient id="q101" gradientUnits="userSpaceOnUse" x1="142.4" y1="366.2" x2="142.2" y2="365.7"><stop offset="0.00" stop-color="#1ed0b8"/><stop offset="0.50" stop-color="#1fd8a9"/><stop offset="1.00" stop-color="#1fdf99"/></linearGradient>
<linearGradient id="q102" gradientUnits="userSpaceOnUse" x1="211.2" y1="329.3" x2="214.0" y2="333.3"><stop offset="0.00" stop-color="#21eb80"/><stop offset="0.50" stop-color="#22ec7a"/><stop offset="1.00" stop-color="#24ed74"/></linearGradient>
<linearGradient id="q103" gradientUnits="userSpaceOnUse" x1="276.0" y1="289.4" x2="289.6" y2="298.1"><stop offset="0.00" stop-color="#28f064"/><stop offset="0.50" stop-color="#2df255"/><stop offset="1.00" stop-color="#32f445"/></linearGradient>
<linearGradient id="q104" gradientUnits="userSpaceOnUse" x1="427.7" y1="203.6" x2="446.7" y2="180.3"><stop offset="0.00" stop-color="#e4f531"/><stop offset="0.50" stop-color="#f3f22d"/><stop offset="1.00" stop-color="#f6e52b"/></linearGradient>
<linearGradient id="q105" gradientUnits="userSpaceOnUse" x1="382.3" y1="232.9" x2="408.0" y2="214.4"><stop offset="0.00" stop-color="#a8f53b"/><stop offset="0.50" stop-color="#baf43a"/><stop offset="1.00" stop-color="#ccf437"/></linearGradient>
<linearGradient id="q106" gradientUnits="userSpaceOnUse" x1="472.2" y1="170.1" x2="486.4" y2="145.4"><stop offset="0.00" stop-color="#f8c627"/><stop offset="0.50" stop-color="#f8ae24"/><stop offset="1.00" stop-color="#f89b20"/></linearGradient>
<linearGradient id="q107" gradientUnits="userSpaceOnUse" x1="338.1" y1="256.1" x2="368.0" y2="250.0"><stop offset="0.00" stop-color="#6ff63e"/><stop offset="0.50" stop-color="#80f63d"/><stop offset="1.00" stop-color="#92f53c"/></linearGradient>
<linearGradient id="q108" gradientUnits="userSpaceOnUse" x1="516.0" y1="133.6" x2="527.0" y2="108.6"><stop offset="0.00" stop-color="#f6761e"/><stop offset="0.50" stop-color="#fa621a"/><stop offset="1.00" stop-color="#ff5014"/></linearGradient>
<linearGradient id="q109" gradientUnits="userSpaceOnUse" x1="169.7" y1="352.4" x2="170.3" y2="353.5"><stop offset="0.00" stop-color="#1fdf9b"/><stop offset="0.50" stop-color="#20e68d"/><stop offset="1.00" stop-color="#20eb81"/></linearGradient>
<linearGradient id="q110" gradientUnits="userSpaceOnUse" x1="237.8" y1="314.8" x2="243.2" y2="321.1"><stop offset="0.00" stop-color="#24ed74"/><stop offset="0.50" stop-color="#25ee6e"/><stop offset="1.00" stop-color="#27ef68"/></linearGradient>
<linearGradient id="q111" gradientUnits="userSpaceOnUse" x1="300.1" y1="276.6" x2="321.7" y2="283.5"><stop offset="0.00" stop-color="#32f445"/><stop offset="0.50" stop-color="#40f53e"/><stop offset="1.00" stop-color="#58f63e"/></linearGradient>
<linearGradient id="q112" gradientUnits="userSpaceOnUse" x1="458.4" y1="188.4" x2="473.2" y2="164.4"><stop offset="0.00" stop-color="#f6e52b"/><stop offset="0.50" stop-color="#f8d329"/><stop offset="1.00" stop-color="#f8bd26"/></linearGradient>
<linearGradient id="q113" gradientUnits="userSpaceOnUse" x1="413.5" y1="220.0" x2="433.7" y2="197.7"><stop offset="0.00" stop-color="#ccf437"/><stop offset="0.50" stop-color="#ddf533"/><stop offset="1.00" stop-color="#eef52e"/></linearGradient>
<linearGradient id="q114" gradientUnits="userSpaceOnUse" x1="502.4" y1="153.7" x2="513.7" y2="129.3"><stop offset="0.00" stop-color="#f89b20"/><stop offset="0.50" stop-color="#f8871c"/><stop offset="1.00" stop-color="#f6711e"/></linearGradient>
<linearGradient id="q115" gradientUnits="userSpaceOnUse" x1="367.7" y1="246.7" x2="395.2" y2="231.1"><stop offset="0.00" stop-color="#92f53c"/><stop offset="0.50" stop-color="#a4f53b"/><stop offset="1.00" stop-color="#b5f43b"/></linearGradient>
<linearGradient id="q116" gradientUnits="userSpaceOnUse" x1="197.0" y1="338.7" x2="198.7" y2="341.6"><stop offset="0.00" stop-color="#20eb81"/><stop offset="0.50" stop-color="#22ec7b"/><stop offset="1.00" stop-color="#23ed76"/></linearGradient>
<linearGradient id="q117" gradientUnits="userSpaceOnUse" x1="263.5" y1="300.7" x2="273.5" y2="309.1"><stop offset="0.00" stop-color="#27ef68"/><stop offset="0.50" stop-color="#2af15f"/><stop offset="1.00" stop-color="#2ef350"/></linearGradient>
<linearGradient id="q118" gradientUnits="userSpaceOnUse" x1="127.3" y1="373.0" x2="126.8" y2="371.8"><stop offset="0.00" stop-color="#1fd1b6"/><stop offset="0.50" stop-color="#1fd9a7"/><stop offset="1.00" stop-color="#1fe097"/></linearGradient>
<linearGradient id="q119" gradientUnits="userSpaceOnUse" x1="324.8" y1="267.0" x2="353.5" y2="266.2"><stop offset="0.00" stop-color="#58f63e"/><stop offset="0.50" stop-color="#6ef63e"/><stop offset="1.00" stop-color="#7ff63d"/></linearGradient>
<linearGradient id="q120" gradientUnits="userSpaceOnUse" x1="444.4" y1="205.9" x2="460.0" y2="182.6"><stop offset="0.00" stop-color="#eef52e"/><stop offset="0.50" stop-color="#f4ec2c"/><stop offset="1.00" stop-color="#f8e02a"/></linearGradient>
<linearGradient id="q121" gradientUnits="userSpaceOnUse" x1="488.7" y1="172.9" x2="500.3" y2="149.2"><stop offset="0.00" stop-color="#f8bd26"/><stop offset="0.50" stop-color="#f8a823"/><stop offset="1.00" stop-color="#f8961f"/></linearGradient>
<linearGradient id="q122" gradientUnits="userSpaceOnUse" x1="399.0" y1="235.4" x2="420.8" y2="214.5"><stop offset="0.00" stop-color="#b5f43b"/><stop offset="0.50" stop-color="#c6f439"/><stop offset="1.00" stop-color="#d6f435"/></linearGradient>
<linearGradient id="q123" gradientUnits="userSpaceOnUse" x1="224.1" y1="325.0" x2="227.7" y2="330.1"><stop offset="0.00" stop-color="#23ed76"/><stop offset="0.50" stop-color="#25ee70"/><stop offset="1.00" stop-color="#26ef6b"/></linearGradient>
<linearGradient id="q124" gradientUnits="userSpaceOnUse" x1="532.4" y1="137.2" x2="541.5" y2="113.5"><stop offset="0.00" stop-color="#f6711e"/><stop offset="0.50" stop-color="#fa6019"/><stop offset="1.00" stop-color="#ff4e14"/></linearGradient>
<linearGradient id="q125" gradientUnits="userSpaceOnUse" x1="288.2" y1="287.6" x2="305.2" y2="296.4"><stop offset="0.00" stop-color="#2ef350"/><stop offset="0.50" stop-color="#33f442"/><stop offset="1.00" stop-color="#44f53e"/></linearGradient>
<linearGradient id="q126" gradientUnits="userSpaceOnUse" x1="154.8" y1="360.0" x2="155.0" y2="360.3"><stop offset="0.00" stop-color="#1fde9c"/><stop offset="0.50" stop-color="#20e58e"/><stop offset="1.00" stop-color="#20eb81"/></linearGradient>
<linearGradient id="q127" gradientUnits="userSpaceOnUse" x1="353.0" y1="259.2" x2="382.1" y2="247.4"><stop offset="0.00" stop-color="#7ff63d"/><stop offset="0.50" stop-color="#90f53c"/><stop offset="1.00" stop-color="#a0f53c"/></linearGradient>
<linearGradient id="q128" gradientUnits="userSpaceOnUse" x1="475.0" y1="191.3" x2="487.0" y2="168.2"><stop offset="0.00" stop-color="#f8e02a"/><stop offset="0.50" stop-color="#f8cc28"/><stop offset="1.00" stop-color="#f8b725"/></linearGradient>
<linearGradient id="q129" gradientUnits="userSpaceOnUse" x1="250.6" y1="311.5" x2="257.5" y2="319.0"><stop offset="0.00" stop-color="#26ef6b"/><stop offset="0.50" stop-color="#28f065"/><stop offset="1.00" stop-color="#2bf159"/></linearGradient>
<linearGradient id="q130" gradientUnits="userSpaceOnUse" x1="518.8" y1="157.4" x2="528.1" y2="134.3"><stop offset="0.00" stop-color="#f8961f"/><stop offset="0.50" stop-color="#f7841d"/><stop offset="1.00" stop-color="#f66f1e"/></linearGradient>
<linearGradient id="q131" gradientUnits="userSpaceOnUse" x1="312.2" y1="277.3" x2="337.9" y2="281.4"><stop offset="0.00" stop-color="#44f53e"/><stop offset="0.50" stop-color="#59f63e"/><stop offset="1.00" stop-color="#6ef63e"/></linearGradient>
<linearGradient id="q132" gradientUnits="userSpaceOnUse" x1="430.3" y1="222.5" x2="446.8" y2="199.9"><stop offset="0.00" stop-color="#d6f435"/><stop offset="0.50" stop-color="#e6f530"/><stop offset="1.00" stop-color="#f3f32d"/></linearGradient>
<linearGradient id="q133" gradientUnits="userSpaceOnUse" x1="182.4" y1="347.2" x2="183.4" y2="349.1"><stop offset="0.00" stop-color="#20eb81"/><stop offset="0.50" stop-color="#22ec7c"/><stop offset="1.00" stop-color="#23ed77"/></linearGradient>
<linearGradient id="q134" gradientUnits="userSpaceOnUse" x1="384.2" y1="249.8" x2="408.0" y2="230.7"><stop offset="0.00" stop-color="#a0f53c"/><stop offset="0.50" stop-color="#b0f43b"/><stop offset="1.00" stop-color="#c0f43a"/></linearGradient>
<linearGradient id="q135" gradientUnits="userSpaceOnUse" x1="111.9" y1="379.2" x2="111.2" y2="377.2"><stop offset="0.00" stop-color="#1fd2b4"/><stop offset="0.50" stop-color="#1fdaa3"/><stop offset="1.00" stop-color="#20e393"/></linearGradient>
<linearGradient id="q136" gradientUnits="userSpaceOnUse" x1="276.1" y1="298.5" x2="288.7" y2="307.8"><stop offset="0.00" stop-color="#2bf159"/><stop offset="0.50" stop-color="#30f34c"/><stop offset="1.00" stop-color="#34f53e"/></linearGradient>
<linearGradient id="q137" gradientUnits="userSpaceOnUse" x1="505.2" y1="176.7" x2="514.6" y2="154.2"><stop offset="0.00" stop-color="#f8b725"/><stop offset="0.50" stop-color="#f8a522"/><stop offset="1.00" stop-color="#f8941e"/></linearGradient>
<linearGradient id="q138" gradientUnits="userSpaceOnUse" x1="338.6" y1="270.2" x2="368.5" y2="263.6"><stop offset="0.00" stop-color="#6ef63e"/><stop offset="0.50" stop-color="#7ef63d"/><stop offset="1.00" stop-color="#8df53d"/></linearGradient>
<linearGradient id="q139" gradientUnits="userSpaceOnUse" x1="209.9" y1="334.4" x2="212.3" y2="338.3"><stop offset="0.00" stop-color="#23ed77"/><stop offset="0.50" stop-color="#24ee72"/><stop offset="1.00" stop-color="#26ef6c"/></linearGradient>
<linearGradient id="q140" gradientUnits="userSpaceOnUse" x1="461.2" y1="208.9" x2="473.6" y2="186.3"><stop offset="0.00" stop-color="#f3f32d"/><stop offset="0.50" stop-color="#f6e82b"/><stop offset="1.00" stop-color="#f8db2a"/></linearGradient>
<linearGradient id="q141" gradientUnits="userSpaceOnUse" x1="548.6" y1="142.5" x2="556.5" y2="119.0"><stop offset="0.00" stop-color="#f6701e"/><stop offset="0.50" stop-color="#fa5f19"/><stop offset="1.00" stop-color="#ff4e14"/></linearGradient>
<linearGradient id="q142" gradientUnits="userSpaceOnUse" x1="416.0" y1="238.2" x2="433.7" y2="216.4"><stop offset="0.00" stop-color="#c0f43a"/><stop offset="0.50" stop-color="#cff437"/><stop offset="1.00" stop-color="#ddf533"/></linearGradient>
<linearGradient id="q143" gradientUnits="userSpaceOnUse" x1="139.6" y1="366.8" x2="139.5" y2="366.4"><stop offset="0.00" stop-color="#1fdf99"/><stop offset="0.50" stop-color="#20e78b"/><stop offset="1.00" stop-color="#21eb7f"/></linearGradient>
<linearGradient id="q144" gradientUnits="userSpaceOnUse" x1="300.3" y1="287.3" x2="321.4" y2="295.3"><stop offset="0.00" stop-color="#34f53e"/><stop offset="0.50" stop-color="#47f53e"/><stop offset="1.00" stop-color="#5bf63e"/></linearGradient>
<linearGradient id="q145" gradientUnits="userSpaceOnUse" x1="369.3" y1="262.9" x2="395.2" y2="246.4"><stop offset="0.00" stop-color="#8df53d"/><stop offset="0.50" stop-color="#9cf53c"/><stop offset="1.00" stop-color="#abf53b"/></linearGradient>
<linearGradient id="q146" gradientUnits="userSpaceOnUse" x1="237.1" y1="321.7" x2="241.7" y2="327.9"><stop offset="0.00" stop-color="#26ef6c"/><stop offset="0.50" stop-color="#27ef67"/><stop offset="1.00" stop-color="#29f160"/></linearGradient>
<linearGradient id="q147" gradientUnits="userSpaceOnUse" x1="535.1" y1="162.6" x2="543.0" y2="140.0"><stop offset="0.00" stop-color="#f8951e"/><stop offset="0.50" stop-color="#f7831d"/><stop offset="1.00" stop-color="#f6701e"/></linearGradient>
<linearGradient id="q148" gradientUnits="userSpaceOnUse" x1="491.6" y1="195.1" x2="501.1" y2="173.3"><stop offset="0.00" stop-color="#f8db2a"/><stop offset="0.50" stop-color="#f8c827"/><stop offset="1.00" stop-color="#f8b525"/></linearGradient>
<linearGradient id="q149" gradientUnits="userSpaceOnUse" x1="447.2" y1="225.6" x2="460.2" y2="203.6"><stop offset="0.00" stop-color="#ddf533"/><stop offset="0.50" stop-color="#ecf52f"/><stop offset="1.00" stop-color="#f3ef2c"/></linearGradient>
<linearGradient id="q150" gradientUnits="userSpaceOnUse" x1="167.5" y1="354.7" x2="168.0" y2="355.9"><stop offset="0.00" stop-color="#20eb82"/><stop offset="0.50" stop-color="#22ec7c"/><stop offset="1.00" stop-color="#23ed77"/></linearGradient>
<linearGradient id="q151" gradientUnits="userSpaceOnUse" x1="325.0" y1="280.0" x2="353.9" y2="279.3"><stop offset="0.00" stop-color="#5bf63e"/><stop offset="0.50" stop-color="#6ef63e"/><stop offset="1.00" stop-color="#7df63d"/></linearGradient>
<linearGradient id="q152" gradientUnits="userSpaceOnUse" x1="263.5" y1="309.2" x2="272.2" y2="317.9"><stop offset="0.00" stop-color="#29f160"/><stop offset="0.50" stop-color="#2df254"/><stop offset="1.00" stop-color="#31f447"/></linearGradient>
<linearGradient id="q153" gradientUnits="userSpaceOnUse" x1="401.4" y1="253.1" x2="420.6" y2="232.2"><stop offset="0.00" stop-color="#abf53b"/><stop offset="0.50" stop-color="#baf43a"/><stop offset="1.00" stop-color="#c8f439"/></linearGradient>
<linearGradient id="q154" gradientUnits="userSpaceOnUse" x1="521.6" y1="181.9" x2="529.4" y2="160.1"><stop offset="0.00" stop-color="#f8b625"/><stop offset="0.50" stop-color="#f8a422"/><stop offset="1.00" stop-color="#f8951e"/></linearGradient>
<linearGradient id="q155" gradientUnits="userSpaceOnUse" x1="564.6" y1="149.9" x2="572.0" y2="124.6"><stop offset="0.00" stop-color="#f6741e"/><stop offset="0.50" stop-color="#fa611a"/><stop offset="1.00" stop-color="#ff4f14"/></linearGradient>
<linearGradient id="q156" gradientUnits="userSpaceOnUse" x1="195.4" y1="342.9" x2="196.8" y2="345.7"><stop offset="0.00" stop-color="#23ed77"/><stop offset="0.50" stop-color="#24ee72"/><stop offset="1.00" stop-color="#25ee6e"/></linearGradient>
<linearGradient id="q157" gradientUnits="userSpaceOnUse" x1="477.8" y1="212.8" x2="487.6" y2="191.5"><stop offset="0.00" stop-color="#f3ef2c"/><stop offset="0.50" stop-color="#f6e52b"/><stop offset="1.00" stop-color="#f8d829"/></linearGradient>
<linearGradient id="q158" gradientUnits="userSpaceOnUse" x1="354.1" y1="274.7" x2="382.3" y2="261.9"><stop offset="0.00" stop-color="#7df63d"/><stop offset="0.50" stop-color="#8af53d"/><stop offset="1.00" stop-color="#98f53c"/></linearGradient>
<linearGradient id="q159" gradientUnits="userSpaceOnUse" x1="288.5" y1="297.6" x2="304.4" y2="307.4"><stop offset="0.00" stop-color="#31f447"/><stop offset="0.50" stop-color="#38f53e"/><stop offset="1.00" stop-color="#4bf53e"/></linearGradient>
<linearGradient id="q160" gradientUnits="userSpaceOnUse" x1="433.1" y1="241.6" x2="446.8" y2="220.1"><stop offset="0.00" stop-color="#c8f439"/><stop offset="0.50" stop-color="#d5f435"/><stop offset="1.00" stop-color="#e2f531"/></linearGradient>
<linearGradient id="q161" gradientUnits="userSpaceOnUse" x1="124.2" y1="372.8" x2="123.8" y2="371.7"><stop offset="0.00" stop-color="#1fe097"/><stop offset="0.50" stop-color="#20e887"/><stop offset="1.00" stop-color="#21ec7e"/></linearGradient>
<linearGradient id="q162" gradientUnits="userSpaceOnUse" x1="223.1" y1="331.1" x2="226.1" y2="336.0"><stop offset="0.00" stop-color="#25ee6e"/><stop offset="0.50" stop-color="#27ef69"/><stop offset="1.00" stop-color="#28f064"/></linearGradient>
<linearGradient id="q163" gradientUnits="userSpaceOnUse" x1="551.1" y1="170.1" x2="558.4" y2="145.7"><stop offset="0.00" stop-color="#f8981f"/><stop offset="0.50" stop-color="#f8851c"/><stop offset="1.00" stop-color="#f6701e"/></linearGradient>
<linearGradient id="q164" gradientUnits="userSpaceOnUse" x1="508.0" y1="200.3" x2="515.7" y2="179.3"><stop offset="0.00" stop-color="#f8d929"/><stop offset="0.50" stop-color="#f8c727"/><stop offset="1.00" stop-color="#f8b525"/></linearGradient>
<linearGradient id="q165" gradientUnits="userSpaceOnUse" x1="386.5" y1="266.9" x2="407.7" y2="247.4"><stop offset="0.00" stop-color="#98f53c"/><stop offset="0.50" stop-color="#a6f53b"/><stop offset="1.00" stop-color="#b3f43b"/></linearGradient>
<linearGradient id="q166" gradientUnits="userSpaceOnUse" x1="312.4" y1="289.1" x2="338.0" y2="294.2"><stop offset="0.00" stop-color="#4bf53e"/><stop offset="0.50" stop-color="#5df63e"/><stop offset="1.00" stop-color="#6ef63e"/></linearGradient>
<linearGradient id="q167" gradientUnits="userSpaceOnUse" x1="464.0" y1="229.6" x2="474.0" y2="208.8"><stop offset="0.00" stop-color="#e2f531"/><stop offset="0.50" stop-color="#eff52e"/><stop offset="1.00" stop-color="#f4ee2c"/></linearGradient>
<linearGradient id="q168" gradientUnits="userSpaceOnUse" x1="152.2" y1="361.5" x2="152.4" y2="361.9"><stop offset="0.00" stop-color="#20eb82"/><stop offset="0.50" stop-color="#22ec7c"/><stop offset="1.00" stop-color="#23ed76"/></linearGradient>
<linearGradient id="q169" gradientUnits="userSpaceOnUse" x1="250.3" y1="319.3" x2="256.1" y2="326.8"><stop offset="0.00" stop-color="#28f064"/><stop offset="0.50" stop-color="#2bf159"/><stop offset="1.00" stop-color="#2ff34e"/></linearGradient>
<linearGradient id="q170" gradientUnits="userSpaceOnUse" x1="580.7" y1="158.4" x2="587.6" y2="131.4"><stop offset="0.00" stop-color="#f77b1d"/><stop offset="0.50" stop-color="#f9661b"/><stop offset="1.00" stop-color="#fe5215"/></linearGradient>
<linearGradient id="q171" gradientUnits="userSpaceOnUse" x1="537.5" y1="189.5" x2="544.8" y2="165.8"><stop offset="0.00" stop-color="#f8ba26"/><stop offset="0.50" stop-color="#f8a622"/><stop offset="1.00" stop-color="#f8951e"/></linearGradient>
<linearGradient id="q172" gradientUnits="userSpaceOnUse" x1="418.7" y1="256.6" x2="433.4" y2="235.7"><stop offset="0.00" stop-color="#b3f43b"/><stop offset="0.50" stop-color="#c1f43a"/><stop offset="1.00" stop-color="#cdf437"/></linearGradient>
<linearGradient id="q173" gradientUnits="userSpaceOnUse" x1="339.2" y1="284.8" x2="368.9" y2="277.4"><stop offset="0.00" stop-color="#6ef63e"/><stop offset="0.50" stop-color="#7bf63d"/><stop offset="1.00" stop-color="#88f53d"/></linearGradient>
<linearGradient id="q174" gradientUnits="userSpaceOnUse" x1="494.4" y1="217.8" x2="502.0" y2="197.7"><stop offset="0.00" stop-color="#f4ee2c"/><stop offset="0.50" stop-color="#f6e42b"/><stop offset="1.00" stop-color="#f8d929"/></linearGradient>
<linearGradient id="q175" gradientUnits="userSpaceOnUse" x1="180.4" y1="350.4" x2="181.3" y2="352.5"><stop offset="0.00" stop-color="#23ed77"/><stop offset="0.50" stop-color="#24ee72"/><stop offset="1.00" stop-color="#25ee6d"/></linearGradient>
<linearGradient id="q176" gradientUnits="userSpaceOnUse" x1="276.4" y1="307.9" x2="287.5" y2="317.7"><stop offset="0.00" stop-color="#2ff34e"/><stop offset="0.50" stop-color="#33f443"/><stop offset="1.00" stop-color="#3ef53e"/></linearGradient>
<linearGradient id="q177" gradientUnits="userSpaceOnUse" x1="450.1" y1="245.5" x2="460.4" y2="225.3"><stop offset="0.00" stop-color="#cdf437"/><stop offset="0.50" stop-color="#d9f434"/><stop offset="1.00" stop-color="#e5f531"/></linearGradient>
<linearGradient id="q178" gradientUnits="userSpaceOnUse" x1="371.2" y1="279.5" x2="394.9" y2="262.0"><stop offset="0.00" stop-color="#88f53d"/><stop offset="0.50" stop-color="#94f53c"/><stop offset="1.00" stop-color="#a1f53c"/></linearGradient>
<linearGradient id="q179" gradientUnits="userSpaceOnUse" x1="567.2" y1="178.7" x2="574.0" y2="152.5"><stop offset="0.00" stop-color="#f89e21"/><stop offset="0.50" stop-color="#f88b1c"/><stop offset="1.00" stop-color="#f6741e"/></linearGradient>
<linearGradient id="q180" gradientUnits="userSpaceOnUse" x1="208.6" y1="339.6" x2="210.5" y2="343.3"><stop offset="0.00" stop-color="#25ee6e"/><stop offset="0.50" stop-color="#27ef6a"/><stop offset="1.00" stop-color="#28f065"/></linearGradient>
<linearGradient id="q181" gradientUnits="userSpaceOnUse" x1="524.0" y1="208.0" x2="531.1" y2="185.1"><stop offset="0.00" stop-color="#f8dd2a"/><stop offset="0.50" stop-color="#f8c928"/><stop offset="1.00" stop-color="#f8b625"/></linearGradient>
<linearGradient id="q182" gradientUnits="userSpaceOnUse" x1="300.7" y1="298.2" x2="320.9" y2="307.4"><stop offset="0.00" stop-color="#3ef53e"/><stop offset="0.50" stop-color="#4ef53e"/><stop offset="1.00" stop-color="#5ff63e"/></linearGradient>
<linearGradient id="q183" gradientUnits="userSpaceOnUse" x1="404.1" y1="270.9" x2="420.1" y2="250.5"><stop offset="0.00" stop-color="#a1f53c"/><stop offset="0.50" stop-color="#adf53b"/><stop offset="1.00" stop-color="#b9f43a"/></linearGradient>
<linearGradient id="q184" gradientUnits="userSpaceOnUse" x1="480.7" y1="234.5" x2="488.2" y2="215.3"><stop offset="0.00" stop-color="#e4f531"/><stop offset="0.50" stop-color="#f0f52e"/><stop offset="1.00" stop-color="#f4ee2c"/></linearGradient>
<linearGradient id="q185" gradientUnits="userSpaceOnUse" x1="596.9" y1="168.0" x2="603.3" y2="139.4"><stop offset="0.00" stop-color="#f7851d"/><stop offset="0.50" stop-color="#f76c1d"/><stop offset="1.00" stop-color="#fc5817"/></linearGradient>
<linearGradient id="q186" gradientUnits="userSpaceOnUse" x1="236.5" y1="328.8" x2="240.2" y2="334.7"><stop offset="0.00" stop-color="#28f065"/><stop offset="0.50" stop-color="#2af15d"/><stop offset="1.00" stop-color="#2ef252"/></linearGradient>
<linearGradient id="q187" gradientUnits="userSpaceOnUse" x1="325.2" y1="293.3" x2="354.4" y2="292.8"><stop offset="0.00" stop-color="#5ff63e"/><stop offset="0.50" stop-color="#6ef63e"/><stop offset="1.00" stop-color="#7af63d"/></linearGradient>
<linearGradient id="q188" gradientUnits="userSpaceOnUse" x1="553.6" y1="198.1" x2="560.3" y2="172.7"><stop offset="0.00" stop-color="#f8c026"/><stop offset="0.50" stop-color="#f8aa24"/><stop offset="1.00" stop-color="#f8981f"/></linearGradient>
<linearGradient id="q189" gradientUnits="userSpaceOnUse" x1="136.7" y1="367.4" x2="136.6" y2="367.1"><stop offset="0.00" stop-color="#21ec7f"/><stop offset="0.50" stop-color="#22ed79"/><stop offset="1.00" stop-color="#24ee73"/></linearGradient>
<linearGradient id="q190" gradientUnits="userSpaceOnUse" x1="436.0" y1="260.7" x2="446.7" y2="240.9"><stop offset="0.00" stop-color="#b9f43a"/><stop offset="0.50" stop-color="#c5f43a"/><stop offset="1.00" stop-color="#cff437"/></linearGradient>
<linearGradient id="q191" gradientUnits="userSpaceOnUse" x1="510.3" y1="225.6" x2="517.3" y2="203.5"><stop offset="0.00" stop-color="#f3f02c"/><stop offset="0.50" stop-color="#f6e62b"/><stop offset="1.00" stop-color="#f8d929"/></linearGradient>
<linearGradient id="q192" gradientUnits="userSpaceOnUse" x1="263.6" y1="317.9" x2="270.8" y2="326.6"><stop offset="0.00" stop-color="#2ef252"/><stop offset="0.50" stop-color="#31f448"/><stop offset="1.00" stop-color="#34f53e"/></linearGradient>
<linearGradient id="q193" gradientUnits="userSpaceOnUse" x1="355.6" y1="290.7" x2="382.2" y2="276.5"><stop offset="0.00" stop-color="#7af63d"/><stop offset="0.50" stop-color="#85f53d"/><stop offset="1.00" stop-color="#91f53c"/></linearGradient>
<linearGradient id="q194" gradientUnits="userSpaceOnUse" x1="165.2" y1="357.1" x2="165.7" y2="358.4"><stop offset="0.00" stop-color="#23ed77"/><stop offset="0.50" stop-color="#24ee72"/><stop offset="1.00" stop-color="#26ef6c"/></linearGradient>
<linearGradient id="q195" gradientUnits="userSpaceOnUse" x1="583.4" y1="188.4" x2="589.6" y2="160.6"><stop offset="0.00" stop-color="#f8a623"/><stop offset="0.50" stop-color="#f8921d"/><stop offset="1.00" stop-color="#f77b1d"/></linearGradient>
<linearGradient id="q196" gradientUnits="userSpaceOnUse" x1="466.9" y1="250.4" x2="474.4" y2="231.9"><stop offset="0.00" stop-color="#cff437"/><stop offset="0.50" stop-color="#daf434"/><stop offset="1.00" stop-color="#e5f531"/></linearGradient>
<linearGradient id="q197" gradientUnits="userSpaceOnUse" x1="540.1" y1="216.7" x2="546.5" y2="192.0"><stop offset="0.00" stop-color="#f7e12a"/><stop offset="0.50" stop-color="#f8ce28"/><stop offset="1.00" stop-color="#f8ba26"/></linearGradient>
<linearGradient id="q198" gradientUnits="userSpaceOnUse" x1="289.1" y1="307.8" x2="303.3" y2="318.5"><stop offset="0.00" stop-color="#34f53e"/><stop offset="0.50" stop-color="#43f53e"/><stop offset="1.00" stop-color="#52f63e"/></linearGradient>
<linearGradient id="q199" gradientUnits="userSpaceOnUse" x1="389.2" y1="284.1" x2="407.0" y2="264.6"><stop offset="0.00" stop-color="#91f53c"/><stop offset="0.50" stop-color="#9cf53c"/><stop offset="1.00" stop-color="#a7f53b"/></linearGradient>
<linearGradient id="q200" gradientUnits="userSpaceOnUse" x1="193.6" y1="347.0" x2="194.9" y2="350.0"><stop offset="0.00" stop-color="#25ee6e"/><stop offset="0.50" stop-color="#27ef69"/><stop offset="1.00" stop-color="#28f065"/></linearGradient>
<linearGradient id="q201" gradientUnits="userSpaceOnUse" x1="613.3" y1="178.8" x2="619.1" y2="148.6"><stop offset="0.00" stop-color="#f8901d"/><stop offset="0.50" stop-color="#f6771e"/><stop offset="1.00" stop-color="#fa6019"/></linearGradient>
<linearGradient id="q202" gradientUnits="userSpaceOnUse" x1="496.7" y1="242.4" x2="503.5" y2="221.0"><stop offset="0.00" stop-color="#e2f531"/><stop offset="0.50" stop-color="#eff52e"/><stop offset="1.00" stop-color="#f4ee2c"/></linearGradient>
<linearGradient id="q203" gradientUnits="userSpaceOnUse" x1="312.7" y1="301.0" x2="338.0" y2="307.5"><stop offset="0.00" stop-color="#52f63e"/><stop offset="0.50" stop-color="#60f63e"/><stop offset="1.00" stop-color="#6ff63e"/></linearGradient>
<linearGradient id="q204" gradientUnits="userSpaceOnUse" x1="569.9" y1="208.0" x2="575.9" y2="180.8"><stop offset="0.00" stop-color="#f8ca28"/><stop offset="0.50" stop-color="#f8b325"/><stop offset="1.00" stop-color="#f89e21"/></linearGradient>
<linearGradient id="q205" gradientUnits="userSpaceOnUse" x1="421.7" y1="275.1" x2="433.0" y2="255.7"><stop offset="0.00" stop-color="#a7f53b"/><stop offset="0.50" stop-color="#b1f43b"/><stop offset="1.00" stop-color="#bcf43a"/></linearGradient>
<linearGradient id="q206" gradientUnits="userSpaceOnUse" x1="222.1" y1="337.3" x2="224.4" y2="341.9"><stop offset="0.00" stop-color="#28f065"/><stop offset="0.50" stop-color="#2af15e"/><stop offset="1.00" stop-color="#2df255"/></linearGradient>
<linearGradient id="q207" gradientUnits="userSpaceOnUse" x1="526.5" y1="234.5" x2="532.7" y2="210.5"><stop offset="0.00" stop-color="#f2f42d"/><stop offset="0.50" stop-color="#f5e82b"/><stop offset="1.00" stop-color="#f8dd2a"/></linearGradient>
<linearGradient id="q208" gradientUnits="userSpaceOnUse" x1="339.9" y1="299.9" x2="369.2" y2="291.3"><stop offset="0.00" stop-color="#6ff63e"/><stop offset="0.50" stop-color="#79f63d"/><stop offset="1.00" stop-color="#83f63d"/></linearGradient>
<linearGradient id="q209" gradientUnits="userSpaceOnUse" x1="453.0" y1="265.5" x2="460.5" y2="247.7"><stop offset="0.00" stop-color="#bcf43a"/><stop offset="0.50" stop-color="#c6f439"/><stop offset="1.00" stop-color="#cff437"/></linearGradient>
<linearGradient id="q210" gradientUnits="userSpaceOnUse" x1="599.8" y1="199.3" x2="605.4" y2="169.8"><stop offset="0.00" stop-color="#f8b225"/><stop offset="0.50" stop-color="#f89b20"/><stop offset="1.00" stop-color="#f7851d"/></linearGradient>
<linearGradient id="q211" gradientUnits="userSpaceOnUse" x1="250.1" y1="327.4" x2="254.5" y2="334.5"><stop offset="0.00" stop-color="#2df255"/><stop offset="0.50" stop-color="#30f34b"/><stop offset="1.00" stop-color="#33f442"/></linearGradient>
<linearGradient id="q212" gradientUnits="userSpaceOnUse" x1="556.4" y1="226.6" x2="562.1" y2="200.2"><stop offset="0.00" stop-color="#f6e72b"/><stop offset="0.50" stop-color="#f8d729"/><stop offset="1.00" stop-color="#f8c026"/></linearGradient>
<linearGradient id="q213" gradientUnits="userSpaceOnUse" x1="373.7" y1="296.4" x2="394.0" y2="278.1"><stop offset="0.00" stop-color="#83f63d"/><stop offset="0.50" stop-color="#8df53d"/><stop offset="1.00" stop-color="#97f53c"/></linearGradient>
<linearGradient id="q214" gradientUnits="userSpaceOnUse" x1="482.9" y1="258.4" x2="489.6" y2="237.7"><stop offset="0.00" stop-color="#cdf437"/><stop offset="0.50" stop-color="#d9f434"/><stop offset="1.00" stop-color="#e4f531"/></linearGradient>
<linearGradient id="q215" gradientUnits="userSpaceOnUse" x1="149.6" y1="362.9" x2="149.8" y2="363.6"><stop offset="0.00" stop-color="#23ed76"/><stop offset="0.50" stop-color="#25ee70"/><stop offset="1.00" stop-color="#26ef6a"/></linearGradient>
<linearGradient id="q216" gradientUnits="userSpaceOnUse" x1="277.0" y1="317.6" x2="286.0" y2="327.6"><stop offset="0.00" stop-color="#33f442"/><stop offset="0.50" stop-color="#3bf53e"/><stop offset="1.00" stop-color="#48f53e"/></linearGradient>
<linearGradient id="q217" gradientUnits="userSpaceOnUse" x1="629.7" y1="190.7" x2="635.0" y2="158.9"><stop offset="0.00" stop-color="#f89e20"/><stop offset="0.50" stop-color="#f7851d"/><stop offset="1.00" stop-color="#f86a1c"/></linearGradient>
<linearGradient id="q218" gradientUnits="userSpaceOnUse" x1="407.2" y1="288.6" x2="419.4" y2="269.6"><stop offset="0.00" stop-color="#97f53c"/><stop offset="0.50" stop-color="#a0f53c"/><stop offset="1.00" stop-color="#aaf53b"/></linearGradient>
<linearGradient id="q219" gradientUnits="userSpaceOnUse" x1="586.3" y1="218.9" x2="591.6" y2="190.1"><stop offset="0.00" stop-color="#f8d829"/><stop offset="0.50" stop-color="#f8be26"/><stop offset="1.00" stop-color="#f8a623"/></linearGradient>
<linearGradient id="q220" gradientUnits="userSpaceOnUse" x1="512.8" y1="251.4" x2="518.8" y2="228.1"><stop offset="0.00" stop-color="#ddf533"/><stop offset="0.50" stop-color="#ebf52f"/><stop offset="1.00" stop-color="#f3f02c"/></linearGradient>
<linearGradient id="q221" gradientUnits="userSpaceOnUse" x1="178.3" y1="353.6" x2="179.2" y2="356.0"><stop offset="0.00" stop-color="#25ee6d"/><stop offset="0.50" stop-color="#27ef68"/><stop offset="1.00" stop-color="#28f063"/></linearGradient>
<linearGradient id="q222" gradientUnits="userSpaceOnUse" x1="301.5" y1="309.2" x2="319.9" y2="319.9"><stop offset="0.00" stop-color="#48f53e"/><stop offset="0.50" stop-color="#55f63e"/><stop offset="1.00" stop-color="#62f63e"/></linearGradient>
<linearGradient id="q223" gradientUnits="userSpaceOnUse" x1="439.0" y1="279.9" x2="446.6" y2="262.5"><stop offset="0.00" stop-color="#aaf53b"/><stop offset="0.50" stop-color="#b3f43b"/><stop offset="1.00" stop-color="#bcf43a"/></linearGradient>
<linearGradient id="q224" gradientUnits="userSpaceOnUse" x1="616.3" y1="211.3" x2="621.2" y2="180.2"><stop offset="0.00" stop-color="#f8c227"/><stop offset="0.50" stop-color="#f8a723"/><stop offset="1.00" stop-color="#f8901d"/></linearGradient>
<linearGradient id="q225" gradientUnits="userSpaceOnUse" x1="542.8" y1="244.5" x2="548.2" y2="218.7"><stop offset="0.00" stop-color="#ecf52f"/><stop offset="0.50" stop-color="#f4ed2c"/><stop offset="1.00" stop-color="#f7e12a"/></linearGradient>
<linearGradient id="q226" gradientUnits="userSpaceOnUse" x1="325.4" y1="306.8" x2="354.8" y2="306.7"><stop offset="0.00" stop-color="#62f63e"/><stop offset="0.50" stop-color="#6ff63e"/><stop offset="1.00" stop-color="#78f63e"/></linearGradient>
<linearGradient id="q227" gradientUnits="userSpaceOnUse" x1="207.1" y1="344.7" x2="208.7" y2="348.6"><stop offset="0.00" stop-color="#28f066"/><stop offset="0.50" stop-color="#2af15e"/><stop offset="1.00" stop-color="#2df253"/></linearGradient>
<linearGradient id="q228" gradientUnits="userSpaceOnUse" x1="469.1" y1="273.5" x2="475.6" y2="253.6"><stop offset="0.00" stop-color="#baf43a"/><stop offset="0.50" stop-color="#c5f439"/><stop offset="1.00" stop-color="#cff437"/></linearGradient>
<linearGradient id="q229" gradientUnits="userSpaceOnUse" x1="572.7" y1="237.7" x2="577.7" y2="209.5"><stop offset="0.00" stop-color="#f4ee2c"/><stop offset="0.50" stop-color="#f7e12a"/><stop offset="1.00" stop-color="#f8ca28"/></linearGradient>
<linearGradient id="q230" gradientUnits="userSpaceOnUse" x1="646.3" y1="203.8" x2="650.9" y2="170.5"><stop offset="0.00" stop-color="#f8ae24"/><stop offset="0.50" stop-color="#f8941e"/><stop offset="1.00" stop-color="#f7781d"/></linearGradient>
<linearGradient id="q231" gradientUnits="userSpaceOnUse" x1="357.6" y1="307.1" x2="381.5" y2="291.3"><stop offset="0.00" stop-color="#78f63e"/><stop offset="0.50" stop-color="#80f63d"/><stop offset="1.00" stop-color="#89f53d"/></linearGradient>
<linearGradient id="q232" gradientUnits="userSpaceOnUse" x1="235.8" y1="336.1" x2="238.5" y2="341.5"><stop offset="0.00" stop-color="#2df255"/><stop offset="0.50" stop-color="#2ff34d"/><stop offset="1.00" stop-color="#32f444"/></linearGradient>
<linearGradient id="q233" gradientUnits="userSpaceOnUse" x1="499.1" y1="267.5" x2="504.9" y2="244.8"><stop offset="0.00" stop-color="#c8f439"/><stop offset="0.50" stop-color="#d5f435"/><stop offset="1.00" stop-color="#e2f531"/></linearGradient>
<linearGradient id="q234" gradientUnits="userSpaceOnUse" x1="602.8" y1="231.0" x2="607.4" y2="200.6"><stop offset="0.00" stop-color="#f7e42b"/><stop offset="0.50" stop-color="#f8cd28"/><stop offset="1.00" stop-color="#f8b225"/></linearGradient>
<linearGradient id="q235" gradientUnits="userSpaceOnUse" x1="392.3" y1="301.3" x2="405.8" y2="282.6"><stop offset="0.00" stop-color="#89f53d"/><stop offset="0.50" stop-color="#92f53c"/><stop offset="1.00" stop-color="#9af53c"/></linearGradient>
<linearGradient id="q236" gradientUnits="userSpaceOnUse" x1="263.9" y1="327.2" x2="269.2" y2="335.4"><stop offset="0.00" stop-color="#32f444"/><stop offset="0.50" stop-color="#36f53e"/><stop offset="1.00" stop-color="#42f53e"/></linearGradient>
<linearGradient id="q237" gradientUnits="userSpaceOnUse" x1="529.2" y1="261.5" x2="534.3" y2="236.3"><stop offset="0.00" stop-color="#d5f435"/><stop offset="0.50" stop-color="#e5f531"/><stop offset="1.00" stop-color="#f2f42d"/></linearGradient>
<linearGradient id="q238" gradientUnits="userSpaceOnUse" x1="424.8" y1="293.4" x2="432.5" y2="276.5"><stop offset="0.00" stop-color="#9af53c"/><stop offset="0.50" stop-color="#a2f53c"/><stop offset="1.00" stop-color="#aaf53b"/></linearGradient>
<linearGradient id="q239" gradientUnits="userSpaceOnUse" x1="632.8" y1="224.5" x2="637.1" y2="191.8"><stop offset="0.00" stop-color="#f8d629"/><stop offset="0.50" stop-color="#f8b825"/><stop offset="1.00" stop-color="#f89e20"/></linearGradient>
<linearGradient id="q240" gradientUnits="userSpaceOnUse" x1="290.2" y1="318.4" x2="301.7" y2="329.7"><stop offset="0.00" stop-color="#42f53e"/><stop offset="0.50" stop-color="#4ef53e"/><stop offset="1.00" stop-color="#59f63e"/></linearGradient>
<linearGradient id="q241" gradientUnits="userSpaceOnUse" x1="559.2" y1="255.6" x2="563.8" y2="228.1"><stop offset="0.00" stop-color="#e2f531"/><stop offset="0.50" stop-color="#f2f42d"/><stop offset="1.00" stop-color="#f6e72b"/></linearGradient>
<linearGradient id="q242" gradientUnits="userSpaceOnUse" x1="455.2" y1="287.8" x2="461.5" y2="268.6"><stop offset="0.00" stop-color="#a8f53b"/><stop offset="0.50" stop-color="#b2f43b"/><stop offset="1.00" stop-color="#bcf43a"/></linearGradient>
<linearGradient id="q243" gradientUnits="userSpaceOnUse" x1="162.8" y1="359.4" x2="163.2" y2="361.0"><stop offset="0.00" stop-color="#26ef6c"/><stop offset="0.50" stop-color="#27f067"/><stop offset="1.00" stop-color="#2af15d"/></linearGradient>
<linearGradient id="q244" gradientUnits="userSpaceOnUse" x1="662.9" y1="218.0" x2="666.9" y2="183.2"><stop offset="0.00" stop-color="#f8c427"/><stop offset="0.50" stop-color="#f8a522"/><stop offset="1.00" stop-color="#f88b1c"/></linearGradient>
<linearGradient id="q245" gradientUnits="userSpaceOnUse" x1="313.4" y1="312.8" x2="337.6" y2="321.3"><stop offset="0.00" stop-color="#59f63e"/><stop offset="0.50" stop-color="#64f63e"/><stop offset="1.00" stop-color="#6ff63e"/></linearGradient>
<linearGradient id="q246" gradientUnits="userSpaceOnUse" x1="589.3" y1="249.9" x2="593.5" y2="220.1"><stop offset="0.00" stop-color="#eef52e"/><stop offset="0.50" stop-color="#f5e92b"/><stop offset="1.00" stop-color="#f8d829"/></linearGradient>
<linearGradient id="q247" gradientUnits="userSpaceOnUse" x1="485.4" y1="282.7" x2="490.8" y2="260.6"><stop offset="0.00" stop-color="#b4f43b"/><stop offset="0.50" stop-color="#c1f43a"/><stop offset="1.00" stop-color="#cdf437"/></linearGradient>
<linearGradient id="q248" gradientUnits="userSpaceOnUse" x1="191.8" y1="351.2" x2="192.9" y2="354.5"><stop offset="0.00" stop-color="#28f065"/><stop offset="0.50" stop-color="#2bf15b"/><stop offset="1.00" stop-color="#2ff34f"/></linearGradient>
<linearGradient id="q249" gradientUnits="userSpaceOnUse" x1="340.9" y1="315.6" x2="369.2" y2="305.2"><stop offset="0.00" stop-color="#6ff63e"/><stop offset="0.50" stop-color="#76f63e"/><stop offset="1.00" stop-color="#7ef63d"/></linearGradient>
<linearGradient id="q250" gradientUnits="userSpaceOnUse" x1="619.3" y1="244.3" x2="623.2" y2="212.3"><stop offset="0.00" stop-color="#f4ef2c"/><stop offset="0.50" stop-color="#f8df2a"/><stop offset="1.00" stop-color="#f8c227"/></linearGradient>
<linearGradient id="q251" gradientUnits="userSpaceOnUse" x1="515.5" y1="277.6" x2="520.3" y2="253.1"><stop offset="0.00" stop-color="#c0f43a"/><stop offset="0.50" stop-color="#cff437"/><stop offset="1.00" stop-color="#ddf533"/></linearGradient>
<linearGradient id="q252" gradientUnits="userSpaceOnUse" x1="376.9" y1="313.1" x2="392.5" y2="294.9"><stop offset="0.00" stop-color="#7ef63d"/><stop offset="0.50" stop-color="#85f53d"/><stop offset="1.00" stop-color="#8df53d"/></linearGradient>
<linearGradient id="q253" gradientUnits="userSpaceOnUse" x1="220.9" y1="343.3" x2="222.8" y2="348.3"><stop offset="0.00" stop-color="#2df255"/><stop offset="0.50" stop-color="#30f34c"/><stop offset="1.00" stop-color="#33f443"/></linearGradient>
<linearGradient id="q254" gradientUnits="userSpaceOnUse" x1="649.5" y1="238.8" x2="653.1" y2="204.6"><stop offset="0.00" stop-color="#f6e62b"/><stop offset="0.50" stop-color="#f8cd28"/><stop offset="1.00" stop-color="#f8ae24"/></linearGradient>
<linearGradient id="q255" gradientUnits="userSpaceOnUse" x1="545.6" y1="272.7" x2="549.8" y2="245.8"><stop offset="0.00" stop-color="#cbf438"/><stop offset="0.50" stop-color="#dcf533"/><stop offset="1.00" stop-color="#ecf52f"/></linearGradient>
<linearGradient id="q256" gradientUnits="userSpaceOnUse" x1="410.5" y1="306.1" x2="418.4" y2="289.6"><stop offset="0.00" stop-color="#8df53d"/><stop offset="0.50" stop-color="#94f53c"/><stop offset="1.00" stop-color="#9bf53c"/></linearGradient>
<linearGradient id="q257" gradientUnits="userSpaceOnUse" x1="249.8" y1="335.9" x2="252.9" y2="342.2"><stop offset="0.00" stop-color="#32f445"/><stop offset="0.50" stop-color="#35f53e"/><stop offset="1.00" stop-color="#3ff53e"/></linearGradient>
<linearGradient id="q258" gradientUnits="userSpaceOnUse" x1="575.7" y1="267.9" x2="579.5" y2="238.7"><stop offset="0.00" stop-color="#d6f435"/><stop offset="0.50" stop-color="#e8f530"/><stop offset="1.00" stop-color="#f4ee2c"/></linearGradient>
<linearGradient id="q259" gradientUnits="userSpaceOnUse" x1="441.3" y1="301.3" x2="447.2" y2="282.7"><stop offset="0.00" stop-color="#98f53c"/><stop offset="0.50" stop-color="#a1f53c"/><stop offset="1.00" stop-color="#aaf53b"/></linearGradient>
<linearGradient id="q260" gradientUnits="userSpaceOnUse" x1="277.8" y1="327.9" x2="284.2" y2="337.4"><stop offset="0.00" stop-color="#3ff53e"/><stop offset="0.50" stop-color="#49f53e"/><stop offset="1.00" stop-color="#53f63e"/></linearGradient>
<linearGradient id="q261" gradientUnits="userSpaceOnUse" x1="605.9" y1="263.2" x2="609.3" y2="231.9"><stop offset="0.00" stop-color="#dff532"/><stop offset="0.50" stop-color="#f2f32d"/><stop offset="1.00" stop-color="#f7e42b"/></linearGradient>
<linearGradient id="q262" gradientUnits="userSpaceOnUse" x1="471.6" y1="297.1" x2="476.6" y2="275.6"><stop offset="0.00" stop-color="#a3f53c"/><stop offset="0.50" stop-color="#aef43b"/><stop offset="1.00" stop-color="#baf43a"/></linearGradient>
<linearGradient id="q263" gradientUnits="userSpaceOnUse" x1="636.0" y1="258.7" x2="639.1" y2="225.2"><stop offset="0.00" stop-color="#e9f530"/><stop offset="0.50" stop-color="#f5eb2c"/><stop offset="1.00" stop-color="#f8d629"/></linearGradient>
<linearGradient id="q264" gradientUnits="userSpaceOnUse" x1="303.1" y1="320.5" x2="318.3" y2="332.6"><stop offset="0.00" stop-color="#53f63e"/><stop offset="0.50" stop-color="#5df63e"/><stop offset="1.00" stop-color="#66f63e"/></linearGradient>
<linearGradient id="q265" gradientUnits="userSpaceOnUse" x1="501.8" y1="292.9" x2="506.1" y2="269.0"><stop offset="0.00" stop-color="#acf53b"/><stop offset="0.50" stop-color="#baf43a"/><stop offset="1.00" stop-color="#c8f439"/></linearGradient>
<linearGradient id="q266" gradientUnits="userSpaceOnUse" x1="325.6" y1="320.5" x2="355.3" y2="320.9"><stop offset="0.00" stop-color="#66f63e"/><stop offset="0.50" stop-color="#6ff63e"/><stop offset="1.00" stop-color="#75f63e"/></linearGradient>
<linearGradient id="q267" gradientUnits="userSpaceOnUse" x1="532.0" y1="288.9" x2="535.8" y2="262.6"><stop offset="0.00" stop-color="#b6f43b"/><stop offset="0.50" stop-color="#c6f439"/><stop offset="1.00" stop-color="#d5f435"/></linearGradient>
<linearGradient id="q268" gradientUnits="userSpaceOnUse" x1="360.6" y1="323.8" x2="379.9" y2="306.6"><stop offset="0.00" stop-color="#75f63e"/><stop offset="0.50" stop-color="#7bf63d"/><stop offset="1.00" stop-color="#82f63d"/></linearGradient>
<linearGradient id="q269" gradientUnits="userSpaceOnUse" x1="562.2" y1="285.0" x2="565.5" y2="256.5"><stop offset="0.00" stop-color="#bff43a"/><stop offset="0.50" stop-color="#d0f436"/><stop offset="1.00" stop-color="#e2f531"/></linearGradient>
<linearGradient id="q270" gradientUnits="userSpaceOnUse" x1="176.2" y1="356.9" x2="176.9" y2="359.5"><stop offset="0.00" stop-color="#28f063"/><stop offset="0.50" stop-color="#2cf256"/><stop offset="1.00" stop-color="#30f449"/></linearGradient>
<linearGradient id="q271" gradientUnits="userSpaceOnUse" x1="592.4" y1="281.3" x2="595.3" y2="250.6"><stop offset="0.00" stop-color="#c7f439"/><stop offset="0.50" stop-color="#daf434"/><stop offset="1.00" stop-color="#eef52e"/></linearGradient>
<linearGradient id="q272" gradientUnits="userSpaceOnUse" x1="395.9" y1="318.0" x2="404.3" y2="301.8"><stop offset="0.00" stop-color="#82f63d"/><stop offset="0.50" stop-color="#87f53d"/><stop offset="1.00" stop-color="#8df53d"/></linearGradient>
<linearGradient id="q273" gradientUnits="userSpaceOnUse" x1="622.6" y1="277.7" x2="625.2" y2="244.9"><stop offset="0.00" stop-color="#cef437"/><stop offset="0.50" stop-color="#e4f531"/><stop offset="1.00" stop-color="#f4ef2c"/></linearGradient>
<linearGradient id="q274" gradientUnits="userSpaceOnUse" x1="205.6" y1="349.7" x2="206.9" y2="354.1"><stop offset="0.00" stop-color="#2df253"/><stop offset="0.50" stop-color="#31f449"/><stop offset="1.00" stop-color="#34f53e"/></linearGradient>
<linearGradient id="q275" gradientUnits="userSpaceOnUse" x1="427.2" y1="313.9" x2="432.9" y2="296.0"><stop offset="0.00" stop-color="#8bf53d"/><stop offset="0.50" stop-color="#93f53c"/><stop offset="1.00" stop-color="#9af53c"/></linearGradient>
<linearGradient id="q276" gradientUnits="userSpaceOnUse" x1="457.7" y1="310.7" x2="462.3" y2="289.8"><stop offset="0.00" stop-color="#93f53c"/><stop offset="0.50" stop-color="#9ef53c"/><stop offset="1.00" stop-color="#a8f53b"/></linearGradient>
<linearGradient id="q277" gradientUnits="userSpaceOnUse" x1="234.9" y1="343.0" x2="237.1" y2="349.1"><stop offset="0.00" stop-color="#32f445"/><stop offset="0.50" stop-color="#36f53e"/><stop offset="1.00" stop-color="#43f53e"/></linearGradient>
<linearGradient id="q278" gradientUnits="userSpaceOnUse" x1="488.1" y1="307.4" x2="491.8" y2="284.0"><stop offset="0.00" stop-color="#9bf53c"/><stop offset="0.50" stop-color="#a8f53b"/><stop offset="1.00" stop-color="#b4f43b"/></linearGradient>
<linearGradient id="q279" gradientUnits="userSpaceOnUse" x1="264.1" y1="336.8" x2="267.5" y2="344.1"><stop offset="0.00" stop-color="#3ff53e"/><stop offset="0.50" stop-color="#48f53e"/><stop offset="1.00" stop-color="#51f53e"/></linearGradient>
<linearGradient id="q280" gradientUnits="userSpaceOnUse" x1="518.4" y1="304.3" x2="521.6" y2="278.6"><stop offset="0.00" stop-color="#a2f53c"/><stop offset="0.50" stop-color="#b1f43b"/><stop offset="1.00" stop-color="#c0f43a"/></linearGradient>
<linearGradient id="q281" gradientUnits="userSpaceOnUse" x1="548.6" y1="301.3" x2="551.4" y2="273.4"><stop offset="0.00" stop-color="#a8f53b"/><stop offset="0.50" stop-color="#baf43a"/><stop offset="1.00" stop-color="#cbf438"/></linearGradient>
<linearGradient id="q282" gradientUnits="userSpaceOnUse" x1="291.9" y1="329.8" x2="299.5" y2="340.5"><stop offset="0.00" stop-color="#50f53e"/><stop offset="0.50" stop-color="#58f63e"/><stop offset="1.00" stop-color="#60f63e"/></linearGradient>
<linearGradient id="q283" gradientUnits="userSpaceOnUse" x1="578.9" y1="298.5" x2="581.2" y2="268.5"><stop offset="0.00" stop-color="#aef43b"/><stop offset="0.50" stop-color="#c3f43a"/><stop offset="1.00" stop-color="#d6f435"/></linearGradient>
<linearGradient id="q284" gradientUnits="userSpaceOnUse" x1="609.1" y1="295.9" x2="611.2" y2="263.7"><stop offset="0.00" stop-color="#b4f43b"/><stop offset="0.50" stop-color="#caf438"/><stop offset="1.00" stop-color="#dff532"/></linearGradient>
<linearGradient id="q285" gradientUnits="userSpaceOnUse" x1="314.9" y1="324.6" x2="336.3" y2="335.9"><stop offset="0.00" stop-color="#60f63e"/><stop offset="0.50" stop-color="#68f63e"/><stop offset="1.00" stop-color="#6ff63e"/></linearGradient>
<linearGradient id="q286" gradientUnits="userSpaceOnUse" x1="342.8" y1="332.1" x2="368.4" y2="319.0"><stop offset="0.00" stop-color="#6ff63e"/><stop offset="0.50" stop-color="#74f63e"/><stop offset="1.00" stop-color="#79f63d"/></linearGradient>
<linearGradient id="q287" gradientUnits="userSpaceOnUse" x1="381.0" y1="329.2" x2="390.2" y2="313.1"><stop offset="0.00" stop-color="#79f63d"/><stop offset="0.50" stop-color="#7ef63d"/><stop offset="1.00" stop-color="#83f63d"/></linearGradient>
<linearGradient id="q288" gradientUnits="userSpaceOnUse" x1="413.0" y1="325.7" x2="418.3" y2="308.4"><stop offset="0.00" stop-color="#81f63d"/><stop offset="0.50" stop-color="#87f53d"/><stop offset="1.00" stop-color="#8df53d"/></linearGradient>
<linearGradient id="q289" gradientUnits="userSpaceOnUse" x1="443.7" y1="323.4" x2="447.8" y2="303.1"><stop offset="0.00" stop-color="#87f53d"/><stop offset="0.50" stop-color="#8ff53c"/><stop offset="1.00" stop-color="#98f53c"/></linearGradient>
<linearGradient id="q290" gradientUnits="userSpaceOnUse" x1="474.3" y1="321.0" x2="477.4" y2="298.2"><stop offset="0.00" stop-color="#8cf53d"/><stop offset="0.50" stop-color="#97f53c"/><stop offset="1.00" stop-color="#a3f53c"/></linearGradient>
<linearGradient id="q291" gradientUnits="userSpaceOnUse" x1="504.7" y1="318.8" x2="507.2" y2="293.7"><stop offset="0.00" stop-color="#90f53c"/><stop offset="0.50" stop-color="#9ef53c"/><stop offset="1.00" stop-color="#acf53b"/></linearGradient>
<linearGradient id="q292" gradientUnits="userSpaceOnUse" x1="535.0" y1="316.8" x2="537.1" y2="289.5"><stop offset="0.00" stop-color="#95f53c"/><stop offset="0.50" stop-color="#a5f53b"/><stop offset="1.00" stop-color="#b6f43b"/></linearGradient>
<linearGradient id="q293" gradientUnits="userSpaceOnUse" x1="190.0" y1="355.3" x2="190.9" y2="359.1"><stop offset="0.00" stop-color="#2ff34f"/><stop offset="0.50" stop-color="#32f444"/><stop offset="1.00" stop-color="#3df53e"/></linearGradient>
<linearGradient id="q294" gradientUnits="userSpaceOnUse" x1="565.4" y1="314.9" x2="567.1" y2="285.5"><stop offset="0.00" stop-color="#98f53c"/><stop offset="0.50" stop-color="#abf53b"/><stop offset="1.00" stop-color="#bff43a"/></linearGradient>
<linearGradient id="q295" gradientUnits="userSpaceOnUse" x1="595.6" y1="313.2" x2="597.1" y2="281.6"><stop offset="0.00" stop-color="#9bf53c"/><stop offset="0.50" stop-color="#b1f43b"/><stop offset="1.00" stop-color="#c7f439"/></linearGradient>
<linearGradient id="q296" gradientUnits="userSpaceOnUse" x1="219.6" y1="349.3" x2="221.1" y2="354.9"><stop offset="0.00" stop-color="#33f443"/><stop offset="0.50" stop-color="#3bf53e"/><stop offset="1.00" stop-color="#49f53e"/></linearGradient>
<linearGradient id="q297" gradientUnits="userSpaceOnUse" x1="249.2" y1="343.7" x2="251.6" y2="351.0"><stop offset="0.00" stop-color="#3ff53e"/><stop offset="0.50" stop-color="#4af53e"/><stop offset="1.00" stop-color="#55f63e"/></linearGradient>
<linearGradient id="q298" gradientUnits="userSpaceOnUse" x1="278.6" y1="338.7" x2="282.4" y2="347.2"><stop offset="0.00" stop-color="#50f53e"/><stop offset="0.50" stop-color="#58f63e"/><stop offset="1.00" stop-color="#5ff63e"/></linearGradient>
<linearGradient id="q299" gradientUnits="userSpaceOnUse" x1="305.8" y1="332.7" x2="315.4" y2="344.9"><stop offset="0.00" stop-color="#5ef63e"/><stop offset="0.50" stop-color="#64f63e"/><stop offset="1.00" stop-color="#6af63e"/></linearGradient>
<linearGradient id="q300" gradientUnits="userSpaceOnUse" x1="325.8" y1="334.2" x2="355.7" y2="335.8"><stop offset="0.00" stop-color="#6af63e"/><stop offset="0.50" stop-color="#6ff63e"/><stop offset="1.00" stop-color="#73f63e"/></linearGradient>
<linearGradient id="q301" gradientUnits="userSpaceOnUse" x1="365.4" y1="339.7" x2="376.5" y2="323.3"><stop offset="0.00" stop-color="#73f63e"/><stop offset="0.50" stop-color="#77f63e"/><stop offset="1.00" stop-color="#7af63d"/></linearGradient>
<linearGradient id="q302" gradientUnits="userSpaceOnUse" x1="398.7" y1="336.7" x2="403.6" y2="319.9"><stop offset="0.00" stop-color="#78f63e"/><stop offset="0.50" stop-color="#7df63d"/><stop offset="1.00" stop-color="#82f63d"/></linearGradient>
<linearGradient id="q303" gradientUnits="userSpaceOnUse" x1="429.7" y1="335.3" x2="433.1" y2="315.5"><stop offset="0.00" stop-color="#7cf63d"/><stop offset="0.50" stop-color="#84f53d"/><stop offset="1.00" stop-color="#8bf53d"/></linearGradient>
<linearGradient id="q304" gradientUnits="userSpaceOnUse" x1="460.4" y1="333.8" x2="462.8" y2="311.6"><stop offset="0.00" stop-color="#7ff63d"/><stop offset="0.50" stop-color="#89f53d"/><stop offset="1.00" stop-color="#93f53c"/></linearGradient>
<linearGradient id="q305" gradientUnits="userSpaceOnUse" x1="491.0" y1="332.5" x2="492.7" y2="308.0"><stop offset="0.00" stop-color="#81f63d"/><stop offset="0.50" stop-color="#8ef53c"/><stop offset="1.00" stop-color="#9bf53c"/></linearGradient>
<linearGradient id="q306" gradientUnits="userSpaceOnUse" x1="582.2" y1="329.6" x2="582.9" y2="298.7"><stop offset="0.00" stop-color="#85f53d"/><stop offset="0.50" stop-color="#9af53c"/><stop offset="1.00" stop-color="#aef43b"/></linearGradient>
<linearGradient id="q307" gradientUnits="userSpaceOnUse" x1="521.4" y1="331.4" x2="522.7" y2="304.7"><stop offset="0.00" stop-color="#83f53d"/><stop offset="0.50" stop-color="#93f53c"/><stop offset="1.00" stop-color="#a2f53c"/></linearGradient>
<linearGradient id="q308" gradientUnits="userSpaceOnUse" x1="551.8" y1="330.4" x2="552.8" y2="301.6"><stop offset="0.00" stop-color="#85f53d"/><stop offset="0.50" stop-color="#96f53c"/><stop offset="1.00" stop-color="#a8f53b"/></linearGradient>
<linearGradient id="q309" gradientUnits="userSpaceOnUse" x1="204.0" y1="354.9" x2="205.0" y2="359.8"><stop offset="0.00" stop-color="#34f53e"/><stop offset="0.50" stop-color="#43f53e"/><stop offset="1.00" stop-color="#53f63e"/></linearGradient>
<linearGradient id="q310" gradientUnits="userSpaceOnUse" x1="234.0" y1="350.0" x2="235.6" y2="356.8"><stop offset="0.00" stop-color="#43f53e"/><stop offset="0.50" stop-color="#4ff53e"/><stop offset="1.00" stop-color="#5cf63e"/></linearGradient>
<linearGradient id="q311" gradientUnits="userSpaceOnUse" x1="568.7" y1="345.2" x2="568.6" y2="315.0"><stop offset="0.00" stop-color="#72f63e"/><stop offset="0.50" stop-color="#85f53d"/><stop offset="1.00" stop-color="#98f53c"/></linearGradient>
<linearGradient id="q312" gradientUnits="userSpaceOnUse" x1="263.9" y1="345.5" x2="266.3" y2="354.1"><stop offset="0.00" stop-color="#51f53e"/><stop offset="0.50" stop-color="#5af63e"/><stop offset="1.00" stop-color="#63f63e"/></linearGradient>
<linearGradient id="q313" gradientUnits="userSpaceOnUse" x1="538.3" y1="345.1" x2="538.4" y2="316.9"><stop offset="0.00" stop-color="#73f63e"/><stop offset="0.50" stop-color="#84f53d"/><stop offset="1.00" stop-color="#95f53c"/></linearGradient>
<linearGradient id="q314" gradientUnits="userSpaceOnUse" x1="293.4" y1="341.7" x2="297.4" y2="351.5"><stop offset="0.00" stop-color="#5ef63e"/><stop offset="0.50" stop-color="#63f63e"/><stop offset="1.00" stop-color="#69f63e"/></linearGradient>
<linearGradient id="q315" gradientUnits="userSpaceOnUse" x1="507.8" y1="345.1" x2="508.2" y2="319.1"><stop offset="0.00" stop-color="#74f63e"/><stop offset="0.50" stop-color="#82f63d"/><stop offset="1.00" stop-color="#90f53c"/></linearGradient>
<linearGradient id="q316" gradientUnits="userSpaceOnUse" x1="319.0" y1="336.8" x2="332.6" y2="350.5"><stop offset="0.00" stop-color="#68f63e"/><stop offset="0.50" stop-color="#6cf63e"/><stop offset="1.00" stop-color="#6ff63e"/></linearGradient>
<linearGradient id="q317" gradientUnits="userSpaceOnUse" x1="477.2" y1="345.3" x2="478.1" y2="321.4"><stop offset="0.00" stop-color="#75f63e"/><stop offset="0.50" stop-color="#80f63d"/><stop offset="1.00" stop-color="#8cf53d"/></linearGradient>
<linearGradient id="q318" gradientUnits="userSpaceOnUse" x1="347.7" y1="349.2" x2="364.6" y2="332.8"><stop offset="0.00" stop-color="#6ff63e"/><stop offset="0.50" stop-color="#72f63e"/><stop offset="1.00" stop-color="#74f63e"/></linearGradient>
<linearGradient id="q319" gradientUnits="userSpaceOnUse" x1="446.6" y1="345.7" x2="448.0" y2="324.0"><stop offset="0.00" stop-color="#75f63e"/><stop offset="0.50" stop-color="#7ef63d"/><stop offset="1.00" stop-color="#87f53d"/></linearGradient>
<linearGradient id="q320" gradientUnits="userSpaceOnUse" x1="384.4" y1="346.9" x2="388.7" y2="330.5"><stop offset="0.00" stop-color="#73f63e"/><stop offset="0.50" stop-color="#76f63e"/><stop offset="1.00" stop-color="#7af63d"/></linearGradient>
<linearGradient id="q321" gradientUnits="userSpaceOnUse" x1="415.7" y1="346.3" x2="418.1" y2="327.0"><stop offset="0.00" stop-color="#74f63e"/><stop offset="0.50" stop-color="#7af63d"/><stop offset="1.00" stop-color="#81f63d"/></linearGradient>
<linearGradient id="q322" gradientUnits="userSpaceOnUse" x1="555.2" y1="359.9" x2="554.1" y2="330.4"><stop offset="0.00" stop-color="#5cf63e"/><stop offset="0.50" stop-color="#73f63e"/><stop offset="1.00" stop-color="#85f53d"/></linearGradient>
<linearGradient id="q323" gradientUnits="userSpaceOnUse" x1="524.7" y1="358.8" x2="523.8" y2="331.4"><stop offset="0.00" stop-color="#61f63e"/><stop offset="0.50" stop-color="#74f63e"/><stop offset="1.00" stop-color="#83f53d"/></linearGradient>
<linearGradient id="q324" gradientUnits="userSpaceOnUse" x1="494.1" y1="357.9" x2="493.5" y2="332.6"><stop offset="0.00" stop-color="#66f63e"/><stop offset="0.50" stop-color="#75f63e"/><stop offset="1.00" stop-color="#81f63d"/></linearGradient>
<linearGradient id="q325" gradientUnits="userSpaceOnUse" x1="463.4" y1="357.2" x2="463.2" y2="334.0"><stop offset="0.00" stop-color="#6af63e"/><stop offset="0.50" stop-color="#75f63e"/><stop offset="1.00" stop-color="#7ff63d"/></linearGradient>
<linearGradient id="q326" gradientUnits="userSpaceOnUse" x1="432.7" y1="356.7" x2="432.9" y2="335.7"><stop offset="0.00" stop-color="#6df63e"/><stop offset="0.50" stop-color="#74f63e"/><stop offset="1.00" stop-color="#7cf63d"/></linearGradient>
<linearGradient id="q327" gradientUnits="userSpaceOnUse" x1="401.8" y1="356.5" x2="402.7" y2="337.6"><stop offset="0.00" stop-color="#6ef63e"/><stop offset="0.50" stop-color="#73f63e"/><stop offset="1.00" stop-color="#78f63e"/></linearGradient>
<linearGradient id="q328" gradientUnits="userSpaceOnUse" x1="218.4" y1="355.5" x2="219.4" y2="361.6"><stop offset="0.00" stop-color="#49f53e"/><stop offset="0.50" stop-color="#58f63e"/><stop offset="1.00" stop-color="#66f63e"/></linearGradient>
<linearGradient id="q329" gradientUnits="userSpaceOnUse" x1="370.1" y1="356.3" x2="373.2" y2="340.1"><stop offset="0.00" stop-color="#6ff63e"/><stop offset="0.50" stop-color="#72f63e"/><stop offset="1.00" stop-color="#74f63e"/></linearGradient>
<linearGradient id="q330" gradientUnits="userSpaceOnUse" x1="248.7" y1="351.8" x2="250.2" y2="359.9"><stop offset="0.00" stop-color="#55f63e"/><stop offset="0.50" stop-color="#60f63e"/><stop offset="1.00" stop-color="#6af63e"/></linearGradient>
<linearGradient id="q331" gradientUnits="userSpaceOnUse" x1="326.9" y1="346.2" x2="355.4" y2="353.1"><stop offset="0.00" stop-color="#6ef63e"/><stop offset="0.50" stop-color="#6ff63e"/><stop offset="1.00" stop-color="#71f63e"/></linearGradient>
<linearGradient id="q332" gradientUnits="userSpaceOnUse" x1="278.9" y1="348.4" x2="281.1" y2="358.5"><stop offset="0.00" stop-color="#5ff63e"/><stop offset="0.50" stop-color="#66f63e"/><stop offset="1.00" stop-color="#6df63e"/></linearGradient>
<linearGradient id="q333" gradientUnits="userSpaceOnUse" x1="308.7" y1="345.7" x2="312.4" y2="357.1"><stop offset="0.00" stop-color="#68f63e"/><stop offset="0.50" stop-color="#6bf63e"/><stop offset="1.00" stop-color="#6ff63e"/></linearGradient>
<linearGradient id="q334" gradientUnits="userSpaceOnUse" x1="541.6" y1="373.8" x2="539.6" y2="345.1"><stop offset="0.00" stop-color="#48f53e"/><stop offset="0.50" stop-color="#5ff63e"/><stop offset="1.00" stop-color="#73f63e"/></linearGradient>
<linearGradient id="q335" gradientUnits="userSpaceOnUse" x1="511.0" y1="371.7" x2="509.1" y2="345.1"><stop offset="0.00" stop-color="#50f53e"/><stop offset="0.50" stop-color="#63f63e"/><stop offset="1.00" stop-color="#74f63e"/></linearGradient>
<linearGradient id="q336" gradientUnits="userSpaceOnUse" x1="480.4" y1="369.8" x2="478.5" y2="345.3"><stop offset="0.00" stop-color="#58f63e"/><stop offset="0.50" stop-color="#68f63e"/><stop offset="1.00" stop-color="#75f63e"/></linearGradient>
<linearGradient id="q337" gradientUnits="userSpaceOnUse" x1="449.7" y1="368.2" x2="448.0" y2="345.8"><stop offset="0.00" stop-color="#5ff63e"/><stop offset="0.50" stop-color="#6bf63e"/><stop offset="1.00" stop-color="#75f63e"/></linearGradient>
<linearGradient id="q338" gradientUnits="userSpaceOnUse" x1="418.9" y1="366.8" x2="417.4" y2="346.6"><stop offset="0.00" stop-color="#65f63e"/><stop offset="0.50" stop-color="#6ef63e"/><stop offset="1.00" stop-color="#74f63e"/></linearGradient>
<linearGradient id="q339" gradientUnits="userSpaceOnUse" x1="388.1" y1="365.7" x2="386.8" y2="347.6"><stop offset="0.00" stop-color="#6af63e"/><stop offset="0.50" stop-color="#6ff63e"/><stop offset="1.00" stop-color="#73f63e"/></linearGradient>
<linearGradient id="q340" gradientUnits="userSpaceOnUse" x1="357.1" y1="364.9" x2="356.3" y2="348.8"><stop offset="0.00" stop-color="#6ef63e"/><stop offset="0.50" stop-color="#70f63e"/><stop offset="1.00" stop-color="#71f63e"/></linearGradient>
<linearGradient id="q341" gradientUnits="userSpaceOnUse" x1="325.1" y1="350.5" x2="326.7" y2="364.3"><stop offset="0.00" stop-color="#6ef63e"/><stop offset="0.50" stop-color="#6ff63e"/><stop offset="1.00" stop-color="#71f63e"/></linearGradient>
<linearGradient id="q342" gradientUnits="userSpaceOnUse" x1="294.6" y1="352.4" x2="295.7" y2="364.1"><stop offset="0.00" stop-color="#69f63e"/><stop offset="0.50" stop-color="#6ef63e"/><stop offset="1.00" stop-color="#72f63e"/></linearGradient>
<linearGradient id="q343" gradientUnits="userSpaceOnUse" x1="263.9" y1="354.6" x2="264.8" y2="364.2"><stop offset="0.00" stop-color="#63f63e"/><stop offset="0.50" stop-color="#6cf63e"/><stop offset="1.00" stop-color="#73f63e"/></linearGradient>
<linearGradient id="q344" gradientUnits="userSpaceOnUse" x1="233.2" y1="357.2" x2="233.9" y2="364.7"><stop offset="0.00" stop-color="#5cf63e"/><stop offset="0.50" stop-color="#68f63e"/><stop offset="1.00" stop-color="#73f63e"/></linearGradient>
<linearGradient id="q345" gradientUnits="userSpaceOnUse" x1="528.1" y1="386.7" x2="524.8" y2="358.9"><stop offset="0.00" stop-color="#37f53e"/><stop offset="0.50" stop-color="#4cf53e"/><stop offset="1.00" stop-color="#61f63e"/></linearGradient>
<linearGradient id="q346" gradientUnits="userSpaceOnUse" x1="497.4" y1="383.6" x2="494.1" y2="358.0"><stop offset="0.00" stop-color="#43f53e"/><stop offset="0.50" stop-color="#54f63e"/><stop offset="1.00" stop-color="#66f63e"/></linearGradient>
<linearGradient id="q347" gradientUnits="userSpaceOnUse" x1="466.7" y1="380.8" x2="463.4" y2="357.3"><stop offset="0.00" stop-color="#4ef53e"/><stop offset="0.50" stop-color="#5cf63e"/><stop offset="1.00" stop-color="#6af63e"/></linearGradient>
<linearGradient id="q348" gradientUnits="userSpaceOnUse" x1="436.0" y1="378.1" x2="432.5" y2="356.9"><stop offset="0.00" stop-color="#58f63e"/><stop offset="0.50" stop-color="#62f63e"/><stop offset="1.00" stop-color="#6df63e"/></linearGradient>
<linearGradient id="q349" gradientUnits="userSpaceOnUse" x1="405.3" y1="375.7" x2="401.4" y2="356.9"><stop offset="0.00" stop-color="#61f63e"/><stop offset="0.50" stop-color="#68f63e"/><stop offset="1.00" stop-color="#6ef63e"/></linearGradient>
<linearGradient id="q350" gradientUnits="userSpaceOnUse" x1="375.1" y1="373.1" x2="369.8" y2="357.4"><stop offset="0.00" stop-color="#69f63e"/><stop offset="0.50" stop-color="#6df63e"/><stop offset="1.00" stop-color="#6ff63e"/></linearGradient>
<linearGradient id="q351" gradientUnits="userSpaceOnUse" x1="355.0" y1="359.6" x2="328.0" y2="369.6"><stop offset="0.00" stop-color="#6ff63e"/><stop offset="0.50" stop-color="#70f63e"/><stop offset="1.00" stop-color="#71f63e"/></linearGradient>
<linearGradient id="q352" gradientUnits="userSpaceOnUse" x1="514.5" y1="398.6" x2="509.9" y2="371.9"><stop offset="0.00" stop-color="#32f445"/><stop offset="0.50" stop-color="#3df53e"/><stop offset="1.00" stop-color="#50f53e"/></linearGradient>
<linearGradient id="q353" gradientUnits="userSpaceOnUse" x1="311.3" y1="357.8" x2="309.7" y2="370.6"><stop offset="0.00" stop-color="#6ff63e"/><stop offset="0.50" stop-color="#72f63e"/><stop offset="1.00" stop-color="#75f63e"/></linearGradient>
<linearGradient id="q354" gradientUnits="userSpaceOnUse" x1="279.6" y1="358.7" x2="279.4" y2="369.6"><stop offset="0.00" stop-color="#6df63e"/><stop offset="0.50" stop-color="#73f63e"/><stop offset="1.00" stop-color="#78f63e"/></linearGradient>
<linearGradient id="q355" gradientUnits="userSpaceOnUse" x1="483.7" y1="394.6" x2="479.0" y2="370.1"><stop offset="0.00" stop-color="#39f53e"/><stop offset="0.50" stop-color="#48f53e"/><stop offset="1.00" stop-color="#58f63e"/></linearGradient>
<linearGradient id="q356" gradientUnits="userSpaceOnUse" x1="248.4" y1="360.1" x2="248.5" y2="368.9"><stop offset="0.00" stop-color="#6af63e"/><stop offset="0.50" stop-color="#73f63e"/><stop offset="1.00" stop-color="#7bf63d"/></linearGradient>
<linearGradient id="q357" gradientUnits="userSpaceOnUse" x1="453.0" y1="390.7" x2="447.9" y2="368.6"><stop offset="0.00" stop-color="#47f53e"/><stop offset="0.50" stop-color="#53f63e"/><stop offset="1.00" stop-color="#5ff63e"/></linearGradient>
<linearGradient id="q358" gradientUnits="userSpaceOnUse" x1="422.3" y1="386.9" x2="416.6" y2="367.4"><stop offset="0.00" stop-color="#54f63e"/><stop offset="0.50" stop-color="#5df63e"/><stop offset="1.00" stop-color="#65f63e"/></linearGradient>
<linearGradient id="q359" gradientUnits="userSpaceOnUse" x1="391.9" y1="382.9" x2="384.9" y2="367.0"><stop offset="0.00" stop-color="#60f63e"/><stop offset="0.50" stop-color="#65f63e"/><stop offset="1.00" stop-color="#6af63e"/></linearGradient>
<linearGradient id="q360" gradientUnits="userSpaceOnUse" x1="367.5" y1="380.9" x2="347.0" y2="365.2"><stop offset="0.00" stop-color="#69f63e"/><stop offset="0.50" stop-color="#6df63e"/><stop offset="1.00" stop-color="#70f63e"/></linearGradient>
<linearGradient id="q361" gradientUnits="userSpaceOnUse" x1="500.8" y1="409.6" x2="494.8" y2="384.2"><stop offset="0.00" stop-color="#30f34b"/><stop offset="0.50" stop-color="#33f540"/><stop offset="1.00" stop-color="#43f53e"/></linearGradient>
<linearGradient id="q362" gradientUnits="userSpaceOnUse" x1="331.2" y1="364.5" x2="321.0" y2="378.4"><stop offset="0.00" stop-color="#70f63e"/><stop offset="0.50" stop-color="#72f63e"/><stop offset="1.00" stop-color="#75f63e"/></linearGradient>
<linearGradient id="q363" gradientUnits="userSpaceOnUse" x1="470.0" y1="404.4" x2="463.6" y2="381.5"><stop offset="0.00" stop-color="#34f53f"/><stop offset="0.50" stop-color="#40f53e"/><stop offset="1.00" stop-color="#4ef53e"/></linearGradient>
<linearGradient id="q364" gradientUnits="userSpaceOnUse" x1="296.1" y1="364.4" x2="293.6" y2="376.0"><stop offset="0.00" stop-color="#72f63e"/><stop offset="0.50" stop-color="#77f63e"/><stop offset="1.00" stop-color="#7bf63d"/></linearGradient>
<linearGradient id="q365" gradientUnits="userSpaceOnUse" x1="264.0" y1="364.3" x2="263.1" y2="374.2"><stop offset="0.00" stop-color="#73f63e"/><stop offset="0.50" stop-color="#7af63d"/><stop offset="1.00" stop-color="#81f63d"/></linearGradient>
<linearGradient id="q366" gradientUnits="userSpaceOnUse" x1="439.2" y1="399.4" x2="432.2" y2="379.3"><stop offset="0.00" stop-color="#43f53e"/><stop offset="0.50" stop-color="#4df53e"/><stop offset="1.00" stop-color="#58f63e"/></linearGradient>
<linearGradient id="q367" gradientUnits="userSpaceOnUse" x1="408.5" y1="394.2" x2="400.5" y2="377.7"><stop offset="0.00" stop-color="#53f63e"/><stop offset="0.50" stop-color="#5af63e"/><stop offset="1.00" stop-color="#61f63e"/></linearGradient>
<linearGradient id="q368" gradientUnits="userSpaceOnUse" x1="381.2" y1="391.4" x2="365.2" y2="374.2"><stop offset="0.00" stop-color="#60f63e"/><stop offset="0.50" stop-color="#66f63e"/><stop offset="1.00" stop-color="#6cf63e"/></linearGradient>
<linearGradient id="q369" gradientUnits="userSpaceOnUse" x1="487.1" y1="419.5" x2="479.4" y2="395.7"><stop offset="0.00" stop-color="#2ef350"/><stop offset="0.50" stop-color="#32f445"/><stop offset="1.00" stop-color="#39f53e"/></linearGradient>
<linearGradient id="q370" gradientUnits="userSpaceOnUse" x1="357.1" y1="377.8" x2="326.6" y2="382.1"><stop offset="0.00" stop-color="#6cf63e"/><stop offset="0.50" stop-color="#70f63e"/><stop offset="1.00" stop-color="#74f63e"/></linearGradient>
<linearGradient id="q371" gradientUnits="userSpaceOnUse" x1="456.1" y1="413.2" x2="448.0" y2="392.3"><stop offset="0.00" stop-color="#33f542"/><stop offset="0.50" stop-color="#3af53e"/><stop offset="1.00" stop-color="#47f53e"/></linearGradient>
<linearGradient id="q372" gradientUnits="userSpaceOnUse" x1="313.9" y1="371.4" x2="306.9" y2="383.4"><stop offset="0.00" stop-color="#74f63e"/><stop offset="0.50" stop-color="#77f63e"/><stop offset="1.00" stop-color="#7bf63d"/></linearGradient>
<linearGradient id="q373" gradientUnits="userSpaceOnUse" x1="280.3" y1="369.9" x2="277.6" y2="380.5"><stop offset="0.00" stop-color="#78f63e"/><stop offset="0.50" stop-color="#7ef63d"/><stop offset="1.00" stop-color="#83f63d"/></linearGradient>
<linearGradient id="q374" gradientUnits="userSpaceOnUse" x1="425.2" y1="406.8" x2="416.3" y2="389.5"><stop offset="0.00" stop-color="#43f53e"/><stop offset="0.50" stop-color="#4bf53e"/><stop offset="1.00" stop-color="#54f63e"/></linearGradient>
<linearGradient id="q375" gradientUnits="userSpaceOnUse" x1="396.8" y1="402.7" x2="381.9" y2="384.8"><stop offset="0.00" stop-color="#53f63e"/><stop offset="0.50" stop-color="#5bf63e"/><stop offset="1.00" stop-color="#63f63e"/></linearGradient>
<linearGradient id="q376" gradientUnits="userSpaceOnUse" x1="473.2" y1="428.3" x2="464.0" y2="406.7"><stop offset="0.00" stop-color="#2ef252"/><stop offset="0.50" stop-color="#31f449"/><stop offset="1.00" stop-color="#34f53f"/></linearGradient>
<linearGradient id="q377" gradientUnits="userSpaceOnUse" x1="372.4" y1="395.0" x2="343.3" y2="384.3"><stop offset="0.00" stop-color="#63f63e"/><stop offset="0.50" stop-color="#6af63e"/><stop offset="1.00" stop-color="#70f63e"/></linearGradient>
<linearGradient id="q378" gradientUnits="userSpaceOnUse" x1="336.7" y1="379.2" x2="315.8" y2="392.5"><stop offset="0.00" stop-color="#70f63e"/><stop offset="0.50" stop-color="#75f63e"/><stop offset="1.00" stop-color="#7af63d"/></linearGradient>
<linearGradient id="q379" gradientUnits="userSpaceOnUse" x1="442.1" y1="420.7" x2="432.3" y2="402.6"><stop offset="0.00" stop-color="#33f442"/><stop offset="0.50" stop-color="#39f53e"/><stop offset="1.00" stop-color="#43f53e"/></linearGradient>
<linearGradient id="q380" gradientUnits="userSpaceOnUse" x1="297.4" y1="377.1" x2="291.7" y2="387.7"><stop offset="0.00" stop-color="#7af63d"/><stop offset="0.50" stop-color="#7ff63d"/><stop offset="1.00" stop-color="#83f53d"/></linearGradient>
<linearGradient id="q381" gradientUnits="userSpaceOnUse" x1="413.0" y1="415.4" x2="398.3" y2="396.7"><stop offset="0.00" stop-color="#43f53e"/><stop offset="0.50" stop-color="#4df53e"/><stop offset="1.00" stop-color="#56f63e"/></linearGradient>
<linearGradient id="q382" gradientUnits="userSpaceOnUse" x1="386.4" y1="408.6" x2="361.5" y2="392.8"><stop offset="0.00" stop-color="#56f63e"/><stop offset="0.50" stop-color="#60f63e"/><stop offset="1.00" stop-color="#69f63e"/></linearGradient>
<linearGradient id="q383" gradientUnits="userSpaceOnUse" x1="459.1" y1="435.9" x2="448.4" y2="417.0"><stop offset="0.00" stop-color="#2ef252"/><stop offset="0.50" stop-color="#30f34a"/><stop offset="1.00" stop-color="#33f542"/></linearGradient>
<linearGradient id="q384" gradientUnits="userSpaceOnUse" x1="357.8" y1="394.2" x2="326.7" y2="397.1"><stop offset="0.00" stop-color="#69f63e"/><stop offset="0.50" stop-color="#71f63e"/><stop offset="1.00" stop-color="#77f63e"/></linearGradient>
<linearGradient id="q385" gradientUnits="userSpaceOnUse" x1="429.5" y1="429.3" x2="414.6" y2="409.8"><stop offset="0.00" stop-color="#33f542"/><stop offset="0.50" stop-color="#3af53e"/><stop offset="1.00" stop-color="#46f53e"/></linearGradient>
<linearGradient id="q386" gradientUnits="userSpaceOnUse" x1="317.6" y1="384.0" x2="303.1" y2="397.8"><stop offset="0.00" stop-color="#77f63e"/><stop offset="0.50" stop-color="#7df63d"/><stop offset="1.00" stop-color="#83f63d"/></linearGradient>
<linearGradient id="q387" gradientUnits="userSpaceOnUse" x1="401.6" y1="422.0" x2="379.1" y2="404.0"><stop offset="0.00" stop-color="#46f53e"/><stop offset="0.50" stop-color="#51f63e"/><stop offset="1.00" stop-color="#5cf63e"/></linearGradient>
<linearGradient id="q388" gradientUnits="userSpaceOnUse" x1="374.3" y1="410.4" x2="342.6" y2="403.0"><stop offset="0.00" stop-color="#5cf63e"/><stop offset="0.50" stop-color="#67f63e"/><stop offset="1.00" stop-color="#71f63e"/></linearGradient>
<linearGradient id="q389" gradientUnits="userSpaceOnUse" x1="446.3" y1="444.6" x2="431.0" y2="424.3"><stop offset="0.00" stop-color="#2ef252"/><stop offset="0.50" stop-color="#31f449"/><stop offset="1.00" stop-color="#33f540"/></linearGradient>
<linearGradient id="q390" gradientUnits="userSpaceOnUse" x1="339.0" y1="395.4" x2="313.8" y2="406.0"><stop offset="0.00" stop-color="#71f63e"/><stop offset="0.50" stop-color="#78f63e"/><stop offset="1.00" stop-color="#80f63d"/></linearGradient>
<linearGradient id="q391" gradientUnits="userSpaceOnUse" x1="417.5" y1="436.3" x2="396.1" y2="416.9"><stop offset="0.00" stop-color="#33f540"/><stop offset="0.50" stop-color="#3ff53e"/><stop offset="1.00" stop-color="#4cf53e"/></linearGradient>
<linearGradient id="q392" gradientUnits="userSpaceOnUse" x1="389.6" y1="425.6" x2="360.0" y2="412.5"><stop offset="0.00" stop-color="#4cf53e"/><stop offset="0.50" stop-color="#59f63e"/><stop offset="1.00" stop-color="#66f63e"/></linearGradient>
<linearGradient id="q393" gradientUnits="userSpaceOnUse" x1="433.9" y1="451.8" x2="413.0" y2="431.4"><stop offset="0.00" stop-color="#2ef350"/><stop offset="0.50" stop-color="#32f445"/><stop offset="1.00" stop-color="#38f53e"/></linearGradient>
<linearGradient id="q394" gradientUnits="userSpaceOnUse" x1="358.4" y1="410.6" x2="326.8" y2="412.9"><stop offset="0.00" stop-color="#66f63e"/><stop offset="0.50" stop-color="#71f63e"/><stop offset="1.00" stop-color="#7af63d"/></linearGradient>
<linearGradient id="q395" gradientUnits="userSpaceOnUse" x1="405.2" y1="440.9" x2="377.5" y2="424.6"><stop offset="0.00" stop-color="#38f53e"/><stop offset="0.50" stop-color="#47f53e"/><stop offset="1.00" stop-color="#56f63e"/></linearGradient>
<linearGradient id="q396" gradientUnits="userSpaceOnUse" x1="375.5" y1="426.9" x2="342.6" y2="421.5"><stop offset="0.00" stop-color="#56f63e"/><stop offset="0.50" stop-color="#64f63e"/><stop offset="1.00" stop-color="#71f63e"/></linearGradient>
<linearGradient id="q397" gradientUnits="userSpaceOnUse" x1="421.3" y1="457.0" x2="394.8" y2="438.6"><stop offset="0.00" stop-color="#30f34b"/><stop offset="0.50" stop-color="#33f540"/><stop offset="1.00" stop-color="#42f53e"/></linearGradient>
<linearGradient id="q398" gradientUnits="userSpaceOnUse" x1="391.7" y1="443.3" x2="359.5" y2="432.6"><stop offset="0.00" stop-color="#42f53e"/><stop offset="0.50" stop-color="#52f63e"/><stop offset="1.00" stop-color="#63f63e"/></linearGradient>
<linearGradient id="q399" gradientUnits="userSpaceOnUse" x1="407.9" y1="460.2" x2="376.8" y2="445.9"><stop offset="0.00" stop-color="#32f445"/><stop offset="0.50" stop-color="#3df53e"/><stop offset="1.00" stop-color="#4ff53e"/></linearGradient></defs>
<polygon points="375.9,129.6 363.0,149.7 376.5,143.3 389.4,123.1" fill="url(#q0)"/>
<polygon points="363.0,149.7 350.2,169.0 363.6,162.7 376.5,143.3" fill="url(#q1)"/>
<polygon points="350.2,169.0 337.2,187.5 350.6,181.2 363.6,162.7" fill="url(#q2)"/>
<polygon points="337.2,187.5 324.2,205.2 337.5,199.0 350.6,181.2" fill="url(#q3)"/>
<polygon points="389.4,123.1 376.5,143.3 390.3,137.8 403.2,117.5" fill="url(#q4)"/>
<polygon points="324.2,205.2 311.1,222.1 324.3,216.0 337.5,199.0" fill="url(#q5)"/>
<polygon points="376.5,143.3 363.6,162.7 377.2,157.3 390.3,137.8" fill="url(#q6)"/>
<polygon points="363.6,162.7 350.6,181.2 364.2,175.9 377.2,157.3" fill="url(#q7)"/>
<polygon points="311.1,222.1 297.9,238.3 311.1,232.2 324.3,216.0" fill="url(#q8)"/>
<polygon points="350.6,181.2 337.5,199.0 351.0,193.7 364.2,175.9" fill="url(#q9)"/>
<polygon points="403.2,117.5 390.3,137.8 404.2,133.3 417.2,112.9" fill="url(#q10)"/>
<polygon points="297.9,238.3 284.6,253.7 297.7,247.6 311.1,232.2" fill="url(#q11)"/>
<polygon points="390.3,137.8 377.2,157.3 391.1,152.8 404.2,133.3" fill="url(#q12)"/>
<polygon points="337.5,199.0 324.3,216.0 337.8,210.7 351.0,193.7" fill="url(#q13)"/>
<polygon points="284.6,253.7 271.2,268.3 284.2,262.2 297.7,247.6" fill="url(#q14)"/>
<polygon points="377.2,157.3 364.2,175.9 378.0,171.5 391.1,152.8" fill="url(#q15)"/>
<polygon points="324.3,216.0 311.1,232.2 324.5,227.0 337.8,210.7" fill="url(#q16)"/>
<polygon points="364.2,175.9 351.0,193.7 364.8,189.4 378.0,171.5" fill="url(#q17)"/>
<polygon points="417.2,112.9 404.2,133.3 418.3,129.7 431.4,109.3" fill="url(#q18)"/>
<polygon points="271.2,268.3 257.7,282.1 270.6,276.1 284.2,262.2" fill="url(#q19)"/>
<polygon points="311.1,232.2 297.7,247.6 311.0,242.4 324.5,227.0" fill="url(#q20)"/>
<polygon points="404.2,133.3 391.1,152.8 405.2,149.3 418.3,129.7" fill="url(#q21)"/>
<polygon points="351.0,193.7 337.8,210.7 351.5,206.4 364.8,189.4" fill="url(#q22)"/>
<polygon points="257.7,282.1 244.0,295.2 256.9,289.2 270.6,276.1" fill="url(#q23)"/>
<polygon points="391.1,152.8 378.0,171.5 392.0,168.0 405.2,149.3" fill="url(#q24)"/>
<polygon points="297.7,247.6 284.2,262.2 297.5,257.1 311.0,242.4" fill="url(#q25)"/>
<polygon points="337.8,210.7 324.5,227.0 338.1,222.7 351.5,206.4" fill="url(#q26)"/>
<polygon points="431.4,109.3 418.3,129.7 432.7,127.1 445.8,106.6" fill="url(#q27)"/>
<polygon points="378.0,171.5 364.8,189.4 378.7,186.0 392.0,168.0" fill="url(#q28)"/>
<polygon points="244.0,295.2 230.2,307.6 243.0,301.6 256.9,289.2" fill="url(#q29)"/>
<polygon points="284.2,262.2 270.6,276.1 283.8,271.0 297.5,257.1" fill="url(#q30)"/>
<polygon points="324.5,227.0 311.0,242.4 324.6,238.2 338.1,222.7" fill="url(#q31)"/>
<polygon points="418.3,129.7 405.2,149.3 419.5,146.7 432.7,127.1" fill="url(#q32)"/>
<polygon points="364.8,189.4 351.5,206.4 365.3,203.1 378.7,186.0" fill="url(#q33)"/>
<polygon points="405.2,149.3 392.0,168.0 406.2,165.5 419.5,146.7" fill="url(#q34)"/>
<polygon points="270.6,276.1 256.9,289.2 270.0,284.1 283.8,271.0" fill="url(#q35)"/>
<polygon points="311.0,242.4 297.5,257.1 311.0,252.9 324.6,238.2" fill="url(#q36)"/>
<polygon points="230.2,307.6 216.2,319.1 229.0,313.1 243.0,301.6" fill="url(#q37)"/>
<polygon points="351.5,206.4 338.1,222.7 351.9,219.4 365.3,203.1" fill="url(#q38)"/>
<polygon points="445.8,106.6 432.7,127.1 447.2,125.5 460.4,105.0" fill="url(#q39)"/>
<polygon points="392.0,168.0 378.7,186.0 392.9,183.5 406.2,165.5" fill="url(#q40)"/>
<polygon points="297.5,257.1 283.8,271.0 297.3,266.8 311.0,252.9" fill="url(#q41)"/>
<polygon points="432.7,127.1 419.5,146.7 433.9,145.2 447.2,125.5" fill="url(#q42)"/>
<polygon points="256.9,289.2 243.0,301.6 256.1,296.5 270.0,284.1" fill="url(#q43)"/>
<polygon points="338.1,222.7 324.6,238.2 338.4,234.9 351.9,219.4" fill="url(#q44)"/>
<polygon points="216.2,319.1 202.1,329.9 214.8,323.9 229.0,313.1" fill="url(#q45)"/>
<polygon points="378.7,186.0 365.3,203.1 379.4,200.7 392.9,183.5" fill="url(#q46)"/>
<polygon points="419.5,146.7 406.2,165.5 420.6,164.1 433.9,145.2" fill="url(#q47)"/>
<polygon points="324.6,238.2 311.0,252.9 324.7,249.7 338.4,234.9" fill="url(#q48)"/>
<polygon points="283.8,271.0 270.0,284.1 283.4,279.9 297.3,266.8" fill="url(#q49)"/>
<polygon points="365.3,203.1 351.9,219.4 366.0,217.1 379.4,200.7" fill="url(#q50)"/>
<polygon points="460.4,105.0 447.2,125.5 461.9,125.0 475.2,104.3" fill="url(#q51)"/>
<polygon points="243.0,301.6 229.0,313.1 242.0,308.0 256.1,296.5" fill="url(#q52)"/>
<polygon points="406.2,165.5 392.9,183.5 407.2,182.1 420.6,164.1" fill="url(#q53)"/>
<polygon points="202.1,329.9 187.8,340.0 200.4,333.9 214.8,323.9" fill="url(#q54)"/>
<polygon points="447.2,125.5 433.9,145.2 448.6,144.7 461.9,125.0" fill="url(#q55)"/>
<polygon points="311.0,252.9 297.3,266.8 310.9,263.6 324.7,249.7" fill="url(#q56)"/>
<polygon points="351.9,219.4 338.4,234.9 352.4,232.6 366.0,217.1" fill="url(#q57)"/>
<polygon points="270.0,284.1 256.1,296.5 269.4,292.3 283.4,279.9" fill="url(#q58)"/>
<polygon points="392.9,183.5 379.4,200.7 393.8,199.3 407.2,182.1" fill="url(#q59)"/>
<polygon points="229.0,313.1 214.8,323.9 227.8,318.8 242.0,308.0" fill="url(#q60)"/>
<polygon points="433.9,145.2 420.6,164.1 435.2,163.6 448.6,144.7" fill="url(#q61)"/>
<polygon points="187.8,340.0 173.3,349.3 185.9,343.2 200.4,333.9" fill="url(#q62)"/>
<polygon points="475.2,104.3 461.9,125.0 476.8,125.4 490.1,104.8" fill="url(#q63)"/>
<polygon points="338.4,234.9 324.7,249.7 338.7,247.4 352.4,232.6" fill="url(#q64)"/>
<polygon points="379.4,200.7 366.0,217.1 380.2,215.8 393.8,199.3" fill="url(#q65)"/>
<polygon points="297.3,266.8 283.4,279.9 297.0,276.7 310.9,263.6" fill="url(#q66)"/>
<polygon points="420.6,164.1 407.2,182.1 421.8,181.7 435.2,163.6" fill="url(#q67)"/>
<polygon points="256.1,296.5 242.0,308.0 255.3,303.8 269.4,292.3" fill="url(#q68)"/>
<polygon points="461.9,125.0 448.6,144.7 463.4,145.3 476.8,125.4" fill="url(#q69)"/>
<polygon points="214.8,323.9 200.4,333.9 213.3,328.8 227.8,318.8" fill="url(#q70)"/>
<polygon points="366.0,217.1 352.4,232.6 366.6,231.3 380.2,215.8" fill="url(#q71)"/>
<polygon points="324.7,249.7 310.9,263.6 324.8,261.3 338.7,247.4" fill="url(#q72)"/>
<polygon points="407.2,182.1 393.8,199.3 408.3,199.0 421.8,181.7" fill="url(#q73)"/>
<polygon points="283.4,279.9 269.4,292.3 283.0,289.1 297.0,276.7" fill="url(#q74)"/>
<polygon points="448.6,144.7 435.2,163.6 450.0,164.3 463.4,145.3" fill="url(#q75)"/>
<polygon points="173.3,349.3 158.6,357.8 171.1,351.7 185.9,343.2" fill="url(#q76)"/>
<polygon points="242.0,308.0 227.8,318.8 241.0,314.6 255.3,303.8" fill="url(#q77)"/>
<polygon points="490.1,104.8 476.8,125.4 491.8,127.0 505.2,106.3" fill="url(#q78)"/>
<polygon points="393.8,199.3 380.2,215.8 394.7,215.5 408.3,199.0" fill="url(#q79)"/>
<polygon points="352.4,232.6 338.7,247.4 352.8,246.1 366.6,231.3" fill="url(#q80)"/>
<polygon points="435.2,163.6 421.8,181.7 436.5,182.4 450.0,164.3" fill="url(#q81)"/>
<polygon points="200.4,333.9 185.9,343.2 198.7,338.0 213.3,328.8" fill="url(#q82)"/>
<polygon points="310.9,263.6 297.0,276.7 310.9,274.5 324.8,261.3" fill="url(#q83)"/>
<polygon points="476.8,125.4 463.4,145.3 478.4,146.9 491.8,127.0" fill="url(#q84)"/>
<polygon points="269.4,292.3 255.3,303.8 268.8,300.6 283.0,289.1" fill="url(#q85)"/>
<polygon points="158.6,357.8 143.7,365.5 156.2,359.4 171.1,351.7" fill="url(#q86)"/>
<polygon points="380.2,215.8 366.6,231.3 381.0,231.1 394.7,215.5" fill="url(#q87)"/>
<polygon points="421.8,181.7 408.3,199.0 423.0,199.7 436.5,182.4" fill="url(#q88)"/>
<polygon points="227.8,318.8 213.3,328.8 226.5,324.6 241.0,314.6" fill="url(#q89)"/>
<polygon points="338.7,247.4 324.8,261.3 339.0,260.1 352.8,246.1" fill="url(#q90)"/>
<polygon points="463.4,145.3 450.0,164.3 465.0,165.9 478.4,146.9" fill="url(#q91)"/>
<polygon points="297.0,276.7 283.0,289.1 296.8,286.8 310.9,274.5" fill="url(#q92)"/>
<polygon points="505.2,106.3 491.8,127.0 507.1,129.6 520.5,108.8" fill="url(#q93)"/>
<polygon points="185.9,343.2 171.1,351.7 183.9,346.5 198.7,338.0" fill="url(#q94)"/>
<polygon points="255.3,303.8 241.0,314.6 254.5,311.4 268.8,300.6" fill="url(#q95)"/>
<polygon points="408.3,199.0 394.7,215.5 409.3,216.2 423.0,199.7" fill="url(#q96)"/>
<polygon points="450.0,164.3 436.5,182.4 451.5,184.1 465.0,165.9" fill="url(#q97)"/>
<polygon points="366.6,231.3 352.8,246.1 367.2,245.9 381.0,231.1" fill="url(#q98)"/>
<polygon points="491.8,127.0 478.4,146.9 493.6,149.6 507.1,129.6" fill="url(#q99)"/>
<polygon points="324.8,261.3 310.9,274.5 325.0,273.3 339.0,260.1" fill="url(#q100)"/>
<polygon points="143.7,365.5 128.6,372.5 141.0,366.3 156.2,359.4" fill="url(#q101)"/>
<polygon points="213.3,328.8 198.7,338.0 211.8,333.8 226.5,324.6" fill="url(#q102)"/>
<polygon points="283.0,289.1 268.8,300.6 282.6,298.4 296.8,286.8" fill="url(#q103)"/>
<polygon points="436.5,182.4 423.0,199.7 437.9,201.5 451.5,184.1" fill="url(#q104)"/>
<polygon points="394.7,215.5 381.0,231.1 395.6,231.9 409.3,216.2" fill="url(#q105)"/>
<polygon points="478.4,146.9 465.0,165.9 480.1,168.7 493.6,149.6" fill="url(#q106)"/>
<polygon points="352.8,246.1 339.0,260.1 353.3,259.9 367.2,245.9" fill="url(#q107)"/>
<polygon points="520.5,108.8 507.1,129.6 522.4,133.4 535.9,112.5" fill="url(#q108)"/>
<polygon points="171.1,351.7 156.2,359.4 168.9,354.1 183.9,346.5" fill="url(#q109)"/>
<polygon points="241.0,314.6 226.5,324.6 239.9,321.3 254.5,311.4" fill="url(#q110)"/>
<polygon points="310.9,274.5 296.8,286.8 310.8,285.6 325.0,273.3" fill="url(#q111)"/>
<polygon points="465.0,165.9 451.5,184.1 466.6,186.9 480.1,168.7" fill="url(#q112)"/>
<polygon points="423.0,199.7 409.3,216.2 424.2,218.0 437.9,201.5" fill="url(#q113)"/>
<polygon points="507.1,129.6 493.6,149.6 509.0,153.4 522.4,133.4" fill="url(#q114)"/>
<polygon points="381.0,231.1 367.2,245.9 381.8,246.7 395.6,231.9" fill="url(#q115)"/>
<polygon points="198.7,338.0 183.9,346.5 197.0,342.2 211.8,333.8" fill="url(#q116)"/>
<polygon points="268.8,300.6 254.5,311.4 268.2,309.1 282.6,298.4" fill="url(#q117)"/>
<polygon points="128.6,372.5 113.2,378.7 125.5,372.4 141.0,366.3" fill="url(#q118)"/>
<polygon points="339.0,260.1 325.0,273.3 339.3,273.1 353.3,259.9" fill="url(#q119)"/>
<polygon points="451.5,184.1 437.9,201.5 452.9,204.4 466.6,186.9" fill="url(#q120)"/>
<polygon points="493.6,149.6 480.1,168.7 495.4,172.6 509.0,153.4" fill="url(#q121)"/>
<polygon points="409.3,216.2 395.6,231.9 410.4,233.7 424.2,218.0" fill="url(#q122)"/>
<polygon points="226.5,324.6 211.8,333.8 225.2,330.5 239.9,321.3" fill="url(#q123)"/>
<polygon points="535.9,112.5 522.4,133.4 538.0,138.2 551.5,117.3" fill="url(#q124)"/>
<polygon points="296.8,286.8 282.6,298.4 296.6,297.2 310.8,285.6" fill="url(#q125)"/>
<polygon points="156.2,359.4 141.0,366.3 153.6,360.9 168.9,354.1" fill="url(#q126)"/>
<polygon points="367.2,245.9 353.3,259.9 367.9,260.7 381.8,246.7" fill="url(#q127)"/>
<polygon points="480.1,168.7 466.6,186.9 481.8,190.9 495.4,172.6" fill="url(#q128)"/>
<polygon points="254.5,311.4 239.9,321.3 253.6,319.1 268.2,309.1" fill="url(#q129)"/>
<polygon points="522.4,133.4 509.0,153.4 524.4,158.3 538.0,138.2" fill="url(#q130)"/>
<polygon points="325.0,273.3 310.8,285.6 325.1,285.4 339.3,273.1" fill="url(#q131)"/>
<polygon points="437.9,201.5 424.2,218.0 439.2,220.9 452.9,204.4" fill="url(#q132)"/>
<polygon points="183.9,346.5 168.9,354.1 181.9,349.8 197.0,342.2" fill="url(#q133)"/>
<polygon points="395.6,231.9 381.8,246.7 396.6,248.6 410.4,233.7" fill="url(#q134)"/>
<polygon points="113.2,378.7 97.6,384.1 109.8,377.7 125.5,372.4" fill="url(#q135)"/>
<polygon points="282.6,298.4 268.2,309.1 282.1,307.9 296.6,297.2" fill="url(#q136)"/>
<polygon points="509.0,153.4 495.4,172.6 510.9,177.5 524.4,158.3" fill="url(#q137)"/>
<polygon points="353.3,259.9 339.3,273.1 353.8,273.9 367.9,260.7" fill="url(#q138)"/>
<polygon points="211.8,333.8 197.0,342.2 210.3,338.9 225.2,330.5" fill="url(#q139)"/>
<polygon points="466.6,186.9 452.9,204.4 468.2,208.3 481.8,190.9" fill="url(#q140)"/>
<polygon points="551.5,117.3 538.0,138.2 553.6,144.2 567.2,123.2" fill="url(#q141)"/>
<polygon points="424.2,218.0 410.4,233.7 425.4,236.7 439.2,220.9" fill="url(#q142)"/>
<polygon points="141.0,366.3 125.5,372.4 138.1,366.9 153.6,360.9" fill="url(#q143)"/>
<polygon points="310.8,285.6 296.6,297.2 310.8,297.0 325.1,285.4" fill="url(#q144)"/>
<polygon points="381.8,246.7 367.9,260.7 382.6,262.7 396.6,248.6" fill="url(#q145)"/>
<polygon points="239.9,321.3 225.2,330.5 238.8,328.2 253.6,319.1" fill="url(#q146)"/>
<polygon points="538.0,138.2 524.4,158.3 540.1,164.4 553.6,144.2" fill="url(#q147)"/>
<polygon points="495.4,172.6 481.8,190.9 497.3,195.9 510.9,177.5" fill="url(#q148)"/>
<polygon points="452.9,204.4 439.2,220.9 454.4,225.0 468.2,208.3" fill="url(#q149)"/>
<polygon points="168.9,354.1 153.6,360.9 166.6,356.5 181.9,349.8" fill="url(#q150)"/>
<polygon points="339.3,273.1 325.1,285.4 339.6,286.3 353.8,273.9" fill="url(#q151)"/>
<polygon points="268.2,309.1 253.6,319.1 267.5,317.8 282.1,307.9" fill="url(#q152)"/>
<polygon points="410.4,233.7 396.6,248.6 411.6,251.6 425.4,236.7" fill="url(#q153)"/>
<polygon points="524.4,158.3 510.9,177.5 526.5,183.6 540.1,164.4" fill="url(#q154)"/>
<polygon points="567.2,123.2 553.6,144.2 569.4,151.3 583.0,130.2" fill="url(#q155)"/>
<polygon points="197.0,342.2 181.9,349.8 195.2,346.4 210.3,338.9" fill="url(#q156)"/>
<polygon points="481.8,190.9 468.2,208.3 483.6,213.4 497.3,195.9" fill="url(#q157)"/>
<polygon points="367.9,260.7 353.8,273.9 368.5,275.9 382.6,262.7" fill="url(#q158)"/>
<polygon points="296.6,297.2 282.1,307.9 296.3,307.7 310.8,297.0" fill="url(#q159)"/>
<polygon points="439.2,220.9 425.4,236.7 440.6,240.7 454.4,225.0" fill="url(#q160)"/>
<polygon points="125.5,372.4 109.8,377.7 122.4,372.2 138.1,366.9" fill="url(#q161)"/>
<polygon points="225.2,330.5 210.3,338.9 223.9,336.5 238.8,328.2" fill="url(#q162)"/>
<polygon points="553.6,144.2 540.1,164.4 555.8,171.5 569.4,151.3" fill="url(#q163)"/>
<polygon points="510.9,177.5 497.3,195.9 512.8,202.1 526.5,183.6" fill="url(#q164)"/>
<polygon points="396.6,248.6 382.6,262.7 397.6,265.7 411.6,251.6" fill="url(#q165)"/>
<polygon points="325.1,285.4 310.8,297.0 325.3,297.9 339.6,286.3" fill="url(#q166)"/>
<polygon points="468.2,208.3 454.4,225.0 469.8,230.1 483.6,213.4" fill="url(#q167)"/>
<polygon points="153.6,360.9 138.1,366.9 151.0,362.5 166.6,356.5" fill="url(#q168)"/>
<polygon points="253.6,319.1 238.8,328.2 252.7,326.9 267.5,317.8" fill="url(#q169)"/>
<polygon points="583.0,130.2 569.4,151.3 585.3,159.6 598.9,138.4" fill="url(#q170)"/>
<polygon points="540.1,164.4 526.5,183.6 542.2,190.9 555.8,171.5" fill="url(#q171)"/>
<polygon points="425.4,236.7 411.6,251.6 426.7,255.7 440.6,240.7" fill="url(#q172)"/>
<polygon points="353.8,273.9 339.6,286.3 354.3,288.3 368.5,275.9" fill="url(#q173)"/>
<polygon points="497.3,195.9 483.6,213.4 499.1,219.7 512.8,202.1" fill="url(#q174)"/>
<polygon points="181.9,349.8 166.6,356.5 179.8,353.1 195.2,346.4" fill="url(#q175)"/>
<polygon points="282.1,307.9 267.5,317.8 281.7,317.6 296.3,307.7" fill="url(#q176)"/>
<polygon points="454.4,225.0 440.6,240.7 456.0,245.9 469.8,230.1" fill="url(#q177)"/>
<polygon points="382.6,262.7 368.5,275.9 383.4,278.9 397.6,265.7" fill="url(#q178)"/>
<polygon points="569.4,151.3 555.8,171.5 571.7,179.9 585.3,159.6" fill="url(#q179)"/>
<polygon points="210.3,338.9 195.2,346.4 208.7,344.0 223.9,336.5" fill="url(#q180)"/>
<polygon points="526.5,183.6 512.8,202.1 528.5,209.4 542.2,190.9" fill="url(#q181)"/>
<polygon points="310.8,297.0 296.3,307.7 310.8,308.6 325.3,297.9" fill="url(#q182)"/>
<polygon points="411.6,251.6 397.6,265.7 412.7,269.8 426.7,255.7" fill="url(#q183)"/>
<polygon points="483.6,213.4 469.8,230.1 485.4,236.4 499.1,219.7" fill="url(#q184)"/>
<polygon points="598.9,138.4 585.3,159.6 601.3,169.0 615.0,147.8" fill="url(#q185)"/>
<polygon points="238.8,328.2 223.9,336.5 237.7,335.2 252.7,326.9" fill="url(#q186)"/>
<polygon points="339.6,286.3 325.3,297.9 339.9,299.8 354.3,288.3" fill="url(#q187)"/>
<polygon points="555.8,171.5 542.2,190.9 558.1,199.3 571.7,179.9" fill="url(#q188)"/>
<polygon points="138.1,366.9 122.4,372.2 135.2,367.6 151.0,362.5" fill="url(#q189)"/>
<polygon points="440.6,240.7 426.7,255.7 442.0,260.9 456.0,245.9" fill="url(#q190)"/>
<polygon points="512.8,202.1 499.1,219.7 514.8,227.0 528.5,209.4" fill="url(#q191)"/>
<polygon points="267.5,317.8 252.7,326.9 266.9,326.7 281.7,317.6" fill="url(#q192)"/>
<polygon points="368.5,275.9 354.3,288.3 369.2,291.3 383.4,278.9" fill="url(#q193)"/>
<polygon points="166.6,356.5 151.0,362.5 164.2,359.0 179.8,353.1" fill="url(#q194)"/>
<polygon points="585.3,159.6 571.7,179.9 587.7,189.4 601.3,169.0" fill="url(#q195)"/>
<polygon points="469.8,230.1 456.0,245.9 471.5,252.3 485.4,236.4" fill="url(#q196)"/>
<polygon points="542.2,190.9 528.5,209.4 544.4,217.9 558.1,199.3" fill="url(#q197)"/>
<polygon points="296.3,307.7 281.7,317.6 296.1,318.5 310.8,308.6" fill="url(#q198)"/>
<polygon points="397.6,265.7 383.4,278.9 398.6,283.1 412.7,269.8" fill="url(#q199)"/>
<polygon points="195.2,346.4 179.8,353.1 193.3,350.7 208.7,344.0" fill="url(#q200)"/>
<polygon points="615.0,147.8 601.3,169.0 617.5,179.6 631.1,158.3" fill="url(#q201)"/>
<polygon points="499.1,219.7 485.4,236.4 501.0,243.8 514.8,227.0" fill="url(#q202)"/>
<polygon points="325.3,297.9 310.8,308.6 325.4,310.6 339.9,299.8" fill="url(#q203)"/>
<polygon points="571.7,179.9 558.1,199.3 574.1,208.9 587.7,189.4" fill="url(#q204)"/>
<polygon points="426.7,255.7 412.7,269.8 428.0,275.1 442.0,260.9" fill="url(#q205)"/>
<polygon points="223.9,336.5 208.7,344.0 222.5,342.7 237.7,335.2" fill="url(#q206)"/>
<polygon points="528.5,209.4 514.8,227.0 530.7,235.6 544.4,217.9" fill="url(#q207)"/>
<polygon points="354.3,288.3 339.9,299.8 354.8,302.9 369.2,291.3" fill="url(#q208)"/>
<polygon points="456.0,245.9 442.0,260.9 457.5,267.3 471.5,252.3" fill="url(#q209)"/>
<polygon points="601.3,169.0 587.7,189.4 603.8,200.1 617.5,179.6" fill="url(#q210)"/>
<polygon points="252.7,326.9 237.7,335.2 251.8,335.0 266.9,326.7" fill="url(#q211)"/>
<polygon points="558.1,199.3 544.4,217.9 560.4,227.5 574.1,208.9" fill="url(#q212)"/>
<polygon points="383.4,278.9 369.2,291.3 384.3,295.5 398.6,283.1" fill="url(#q213)"/>
<polygon points="485.4,236.4 471.5,252.3 487.2,259.8 501.0,243.8" fill="url(#q214)"/>
<polygon points="151.0,362.5 135.2,367.6 148.4,364.0 164.2,359.0" fill="url(#q215)"/>
<polygon points="281.7,317.6 266.9,326.7 281.2,327.6 296.1,318.5" fill="url(#q216)"/>
<polygon points="631.1,158.3 617.5,179.6 633.7,191.4 647.3,170.0" fill="url(#q217)"/>
<polygon points="412.7,269.8 398.6,283.1 413.9,288.4 428.0,275.1" fill="url(#q218)"/>
<polygon points="587.7,189.4 574.1,208.9 590.1,219.6 603.8,200.1" fill="url(#q219)"/>
<polygon points="514.8,227.0 501.0,243.8 516.9,252.4 530.7,235.6" fill="url(#q220)"/>
<polygon points="179.8,353.1 164.2,359.0 177.7,356.5 193.3,350.7" fill="url(#q221)"/>
<polygon points="310.8,308.6 296.1,318.5 310.7,320.5 325.4,310.6" fill="url(#q222)"/>
<polygon points="442.0,260.9 428.0,275.1 443.5,281.5 457.5,267.3" fill="url(#q223)"/>
<polygon points="617.5,179.6 603.8,200.1 620.0,211.9 633.7,191.4" fill="url(#q224)"/>
<polygon points="544.4,217.9 530.7,235.6 546.6,245.3 560.4,227.5" fill="url(#q225)"/>
<polygon points="339.9,299.8 325.4,310.6 340.3,313.7 354.8,302.9" fill="url(#q226)"/>
<polygon points="208.7,344.0 193.3,350.7 207.1,349.3 222.5,342.7" fill="url(#q227)"/>
<polygon points="471.5,252.3 457.5,267.3 473.2,274.9 487.2,259.8" fill="url(#q228)"/>
<polygon points="574.1,208.9 560.4,227.5 576.4,238.3 590.1,219.6" fill="url(#q229)"/>
<polygon points="647.3,170.0 633.7,191.4 649.9,204.3 663.6,182.8" fill="url(#q230)"/>
<polygon points="369.2,291.3 354.8,302.9 369.9,307.1 384.3,295.5" fill="url(#q231)"/>
<polygon points="237.7,335.2 222.5,342.7 236.6,342.4 251.8,335.0" fill="url(#q232)"/>
<polygon points="501.0,243.8 487.2,259.8 503.0,268.4 516.9,252.4" fill="url(#q233)"/>
<polygon points="603.8,200.1 590.1,219.6 606.3,231.5 620.0,211.9" fill="url(#q234)"/>
<polygon points="398.6,283.1 384.3,295.5 399.6,300.9 413.9,288.4" fill="url(#q235)"/>
<polygon points="266.9,326.7 251.8,335.0 266.2,335.8 281.2,327.6" fill="url(#q236)"/>
<polygon points="530.7,235.6 516.9,252.4 532.8,262.2 546.6,245.3" fill="url(#q237)"/>
<polygon points="428.0,275.1 413.9,288.4 429.3,294.9 443.5,281.5" fill="url(#q238)"/>
<polygon points="633.7,191.4 620.0,211.9 636.3,224.9 649.9,204.3" fill="url(#q239)"/>
<polygon points="296.1,318.5 281.2,327.6 295.8,329.5 310.7,320.5" fill="url(#q240)"/>
<polygon points="560.4,227.5 546.6,245.3 562.7,256.2 576.4,238.3" fill="url(#q241)"/>
<polygon points="457.5,267.3 443.5,281.5 459.2,289.1 473.2,274.9" fill="url(#q242)"/>
<polygon points="164.2,359.0 148.4,364.0 161.8,361.4 177.7,356.5" fill="url(#q243)"/>
<polygon points="663.6,182.8 649.9,204.3 666.3,218.4 679.9,196.9" fill="url(#q244)"/>
<polygon points="325.4,310.6 310.7,320.5 325.5,323.6 340.3,313.7" fill="url(#q245)"/>
<polygon points="590.1,219.6 576.4,238.3 592.6,250.3 606.3,231.5" fill="url(#q246)"/>
<polygon points="487.2,259.8 473.2,274.9 489.0,283.6 503.0,268.4" fill="url(#q247)"/>
<polygon points="193.3,350.7 177.7,356.5 191.4,355.0 207.1,349.3" fill="url(#q248)"/>
<polygon points="354.8,302.9 340.3,313.7 355.3,317.9 369.9,307.1" fill="url(#q249)"/>
<polygon points="620.0,211.9 606.3,231.5 622.6,244.7 636.3,224.9" fill="url(#q250)"/>
<polygon points="516.9,252.4 503.0,268.4 518.9,278.3 532.8,262.2" fill="url(#q251)"/>
<polygon points="384.3,295.5 369.9,307.1 385.2,312.5 399.6,300.9" fill="url(#q252)"/>
<polygon points="222.5,342.7 207.1,349.3 221.1,348.9 236.6,342.4" fill="url(#q253)"/>
<polygon points="649.9,204.3 636.3,224.9 652.6,239.1 666.3,218.4" fill="url(#q254)"/>
<polygon points="546.6,245.3 532.8,262.2 548.9,273.2 562.7,256.2" fill="url(#q255)"/>
<polygon points="413.9,288.4 399.6,300.9 415.1,307.4 429.3,294.9" fill="url(#q256)"/>
<polygon points="251.8,335.0 236.6,342.4 250.9,343.2 266.2,335.8" fill="url(#q257)"/>
<polygon points="576.4,238.3 562.7,256.2 578.8,268.3 592.6,250.3" fill="url(#q258)"/>
<polygon points="443.5,281.5 429.3,294.9 445.0,302.5 459.2,289.1" fill="url(#q259)"/>
<polygon points="281.2,327.6 266.2,335.8 280.7,337.7 295.8,329.5" fill="url(#q260)"/>
<polygon points="606.3,231.5 592.6,250.3 608.9,263.5 622.6,244.7" fill="url(#q261)"/>
<polygon points="473.2,274.9 459.2,289.1 475.0,297.9 489.0,283.6" fill="url(#q262)"/>
<polygon points="636.3,224.9 622.6,244.7 638.9,259.0 652.6,239.1" fill="url(#q263)"/>
<polygon points="310.7,320.5 295.8,329.5 310.6,332.6 325.5,323.6" fill="url(#q264)"/>
<polygon points="503.0,268.4 489.0,283.6 505.0,293.5 518.9,278.3" fill="url(#q265)"/>
<polygon points="340.3,313.7 325.5,323.6 340.6,327.8 355.3,317.9" fill="url(#q266)"/>
<polygon points="532.8,262.2 518.9,278.3 535.0,289.3 548.9,273.2" fill="url(#q267)"/>
<polygon points="369.9,307.1 355.3,317.9 370.6,323.3 385.2,312.5" fill="url(#q268)"/>
<polygon points="562.7,256.2 548.9,273.2 565.0,285.3 578.8,268.3" fill="url(#q269)"/>
<polygon points="177.7,356.5 161.8,361.4 175.5,359.9 191.4,355.0" fill="url(#q270)"/>
<polygon points="592.6,250.3 578.8,268.3 595.1,281.6 608.9,263.5" fill="url(#q271)"/>
<polygon points="399.6,300.9 385.2,312.5 400.6,319.0 415.1,307.4" fill="url(#q272)"/>
<polygon points="622.6,244.7 608.9,263.5 625.2,277.9 638.9,259.0" fill="url(#q273)"/>
<polygon points="207.1,349.3 191.4,355.0 205.4,354.6 221.1,348.9" fill="url(#q274)"/>
<polygon points="429.3,294.9 415.1,307.4 430.7,315.1 445.0,302.5" fill="url(#q275)"/>
<polygon points="459.2,289.1 445.0,302.5 460.8,311.3 475.0,297.9" fill="url(#q276)"/>
<polygon points="236.6,342.4 221.1,348.9 235.4,349.7 250.9,343.2" fill="url(#q277)"/>
<polygon points="489.0,283.6 475.0,297.9 490.9,307.9 505.0,293.5" fill="url(#q278)"/>
<polygon points="266.2,335.8 250.9,343.2 265.4,345.1 280.7,337.7" fill="url(#q279)"/>
<polygon points="518.9,278.3 505.0,293.5 521.0,304.6 535.0,289.3" fill="url(#q280)"/>
<polygon points="548.9,273.2 535.0,289.3 551.1,301.6 565.0,285.3" fill="url(#q281)"/>
<polygon points="295.8,329.5 280.7,337.7 295.6,340.8 310.6,332.6" fill="url(#q282)"/>
<polygon points="578.8,268.3 565.0,285.3 581.3,298.7 595.1,281.6" fill="url(#q283)"/>
<polygon points="608.9,263.5 595.1,281.6 611.4,296.0 625.2,277.9" fill="url(#q284)"/>
<polygon points="325.5,323.6 310.6,332.6 325.7,336.8 340.6,327.8" fill="url(#q285)"/>
<polygon points="355.3,317.9 340.6,327.8 355.9,333.2 370.6,323.3" fill="url(#q286)"/>
<polygon points="385.2,312.5 370.6,323.3 386.1,329.8 400.6,319.0" fill="url(#q287)"/>
<polygon points="415.1,307.4 400.6,319.0 416.3,326.8 430.7,315.1" fill="url(#q288)"/>
<polygon points="445.0,302.5 430.7,315.1 446.5,323.9 460.8,311.3" fill="url(#q289)"/>
<polygon points="475.0,297.9 460.8,311.3 476.7,321.4 490.9,307.9" fill="url(#q290)"/>
<polygon points="505.0,293.5 490.9,307.9 507.0,319.0 521.0,304.6" fill="url(#q291)"/>
<polygon points="535.0,289.3 521.0,304.6 537.2,316.9 551.1,301.6" fill="url(#q292)"/>
<polygon points="191.4,355.0 175.5,359.9 189.4,359.4 205.4,354.6" fill="url(#q293)"/>
<polygon points="565.0,285.3 551.1,301.6 567.4,315.0 581.3,298.7" fill="url(#q294)"/>
<polygon points="595.1,281.6 581.3,298.7 597.6,313.3 611.4,296.0" fill="url(#q295)"/>
<polygon points="221.1,348.9 205.4,354.6 219.7,355.3 235.4,349.7" fill="url(#q296)"/>
<polygon points="250.9,343.2 235.4,349.7 249.9,351.5 265.4,345.1" fill="url(#q297)"/>
<polygon points="280.7,337.7 265.4,345.1 280.2,348.1 295.6,340.8" fill="url(#q298)"/>
<polygon points="310.6,332.6 295.6,340.8 310.6,345.0 325.7,336.8" fill="url(#q299)"/>
<polygon points="340.6,327.8 325.7,336.8 341.0,342.2 355.9,333.2" fill="url(#q300)"/>
<polygon points="370.6,323.3 355.9,333.2 371.3,339.8 386.1,329.8" fill="url(#q301)"/>
<polygon points="400.6,319.0 386.1,329.8 401.7,337.6 416.3,326.8" fill="url(#q302)"/>
<polygon points="430.7,315.1 416.3,326.8 432.1,335.7 446.5,323.9" fill="url(#q303)"/>
<polygon points="460.8,311.3 446.5,323.9 462.5,334.0 476.7,321.4" fill="url(#q304)"/>
<polygon points="490.9,307.9 476.7,321.4 492.8,332.6 507.0,319.0" fill="url(#q305)"/>
<polygon points="581.3,298.7 567.4,315.0 583.8,329.7 597.6,313.3" fill="url(#q306)"/>
<polygon points="521.0,304.6 507.0,319.0 523.2,331.4 537.2,316.9" fill="url(#q307)"/>
<polygon points="551.1,301.6 537.2,316.9 553.5,330.5 567.4,315.0" fill="url(#q308)"/>
<polygon points="205.4,354.6 189.4,359.4 203.7,360.1 219.7,355.3" fill="url(#q309)"/>
<polygon points="235.4,349.7 219.7,355.3 234.2,357.1 249.9,351.5" fill="url(#q310)"/>
<polygon points="567.4,315.0 553.5,330.5 569.9,345.2 583.8,329.7" fill="url(#q311)"/>
<polygon points="265.4,345.1 249.9,351.5 264.7,354.6 280.2,348.1" fill="url(#q312)"/>
<polygon points="537.2,316.9 523.2,331.4 539.5,345.1 553.5,330.5" fill="url(#q313)"/>
<polygon points="295.6,340.8 280.2,348.1 295.3,352.3 310.6,345.0" fill="url(#q314)"/>
<polygon points="507.0,319.0 492.8,332.6 509.0,345.1 523.2,331.4" fill="url(#q315)"/>
<polygon points="325.7,336.8 310.6,345.0 325.8,350.4 341.0,342.2" fill="url(#q316)"/>
<polygon points="476.7,321.4 462.5,334.0 478.5,345.3 492.8,332.6" fill="url(#q317)"/>
<polygon points="355.9,333.2 341.0,342.2 356.4,348.8 371.3,339.8" fill="url(#q318)"/>
<polygon points="446.5,323.9 432.1,335.7 448.0,345.8 462.5,334.0" fill="url(#q319)"/>
<polygon points="386.1,329.8 371.3,339.8 387.0,347.6 401.7,337.6" fill="url(#q320)"/>
<polygon points="416.3,326.8 401.7,337.6 417.5,346.6 432.1,335.7" fill="url(#q321)"/>
<polygon points="553.5,330.5 539.5,345.1 555.8,359.9 569.9,345.2" fill="url(#q322)"/>
<polygon points="523.2,331.4 509.0,345.1 525.3,358.8 539.5,345.1" fill="url(#q323)"/>
<polygon points="492.8,332.6 478.5,345.3 494.8,357.9 509.0,345.1" fill="url(#q324)"/>
<polygon points="462.5,334.0 448.0,345.8 464.2,357.2 478.5,345.3" fill="url(#q325)"/>
<polygon points="432.1,335.7 417.5,346.6 433.5,356.8 448.0,345.8" fill="url(#q326)"/>
<polygon points="401.7,337.6 387.0,347.6 402.8,356.6 417.5,346.6" fill="url(#q327)"/>
<polygon points="219.7,355.3 203.7,360.1 218.2,361.8 234.2,357.1" fill="url(#q328)"/>
<polygon points="371.3,339.8 356.4,348.8 372.1,356.7 387.0,347.6" fill="url(#q329)"/>
<polygon points="249.9,351.5 234.2,357.1 248.9,360.1 264.7,354.6" fill="url(#q330)"/>
<polygon points="341.0,342.2 325.8,350.4 341.3,357.0 356.4,348.8" fill="url(#q331)"/>
<polygon points="280.2,348.1 264.7,354.6 279.7,358.7 295.3,352.3" fill="url(#q332)"/>
<polygon points="310.6,345.0 295.3,352.3 310.5,357.7 325.8,350.4" fill="url(#q333)"/>
<polygon points="539.5,345.1 525.3,358.8 541.8,373.8 555.8,359.9" fill="url(#q334)"/>
<polygon points="509.0,345.1 494.8,357.9 511.1,371.7 525.3,358.8" fill="url(#q335)"/>
<polygon points="478.5,345.3 464.2,357.2 480.4,369.8 494.8,357.9" fill="url(#q336)"/>
<polygon points="448.0,345.8 433.5,356.8 449.6,368.2 464.2,357.2" fill="url(#q337)"/>
<polygon points="417.5,346.6 402.8,356.6 418.8,366.8 433.5,356.8" fill="url(#q338)"/>
<polygon points="387.0,347.6 372.1,356.7 387.9,365.7 402.8,356.6" fill="url(#q339)"/>
<polygon points="356.4,348.8 341.3,357.0 357.0,364.9 372.1,356.7" fill="url(#q340)"/>
<polygon points="325.8,350.4 310.5,357.7 326.0,364.3 341.3,357.0" fill="url(#q341)"/>
<polygon points="295.3,352.3 279.7,358.7 295.0,364.1 310.5,357.7" fill="url(#q342)"/>
<polygon points="264.7,354.6 248.9,360.1 264.0,364.3 279.7,358.7" fill="url(#q343)"/>
<polygon points="234.2,357.1 218.2,361.8 232.9,364.7 248.9,360.1" fill="url(#q344)"/>
<polygon points="525.3,358.8 511.1,371.7 527.6,386.7 541.8,373.8" fill="url(#q345)"/>
<polygon points="494.8,357.9 480.4,369.8 496.8,383.7 511.1,371.7" fill="url(#q346)"/>
<polygon points="464.2,357.2 449.6,368.2 465.9,380.9 480.4,369.8" fill="url(#q347)"/>
<polygon points="433.5,356.8 418.8,366.8 434.9,378.3 449.6,368.2" fill="url(#q348)"/>
<polygon points="402.8,356.6 387.9,365.7 403.9,376.0 418.8,366.8" fill="url(#q349)"/>
<polygon points="372.1,356.7 357.0,364.9 372.8,373.9 387.9,365.7" fill="url(#q350)"/>
<polygon points="341.3,357.0 326.0,364.3 341.7,372.2 357.0,364.9" fill="url(#q351)"/>
<polygon points="511.1,371.7 496.8,383.7 513.2,398.8 527.6,386.7" fill="url(#q352)"/>
<polygon points="310.5,357.7 295.0,364.1 310.5,370.7 326.0,364.3" fill="url(#q353)"/>
<polygon points="279.7,358.7 264.0,364.3 279.2,369.6 295.0,364.1" fill="url(#q354)"/>
<polygon points="480.4,369.8 465.9,380.9 482.3,394.8 496.8,383.7" fill="url(#q355)"/>
<polygon points="248.9,360.1 232.9,364.7 247.9,368.9 264.0,364.3" fill="url(#q356)"/>
<polygon points="449.6,368.2 434.9,378.3 451.2,391.1 465.9,380.9" fill="url(#q357)"/>
<polygon points="418.8,366.8 403.9,376.0 420.1,387.5 434.9,378.3" fill="url(#q358)"/>
<polygon points="387.9,365.7 372.8,373.9 388.9,384.3 403.9,376.0" fill="url(#q359)"/>
<polygon points="357.0,364.9 341.7,372.2 357.5,381.3 372.8,373.9" fill="url(#q360)"/>
<polygon points="496.8,383.7 482.3,394.8 498.8,410.1 513.2,398.8" fill="url(#q361)"/>
<polygon points="326.0,364.3 310.5,370.7 326.2,378.6 341.7,372.2" fill="url(#q362)"/>
<polygon points="465.9,380.9 451.2,391.1 467.7,405.1 482.3,394.8" fill="url(#q363)"/>
<polygon points="295.0,364.1 279.2,369.6 294.7,376.2 310.5,370.7" fill="url(#q364)"/>
<polygon points="264.0,364.3 247.9,368.9 263.2,374.2 279.2,369.6" fill="url(#q365)"/>
<polygon points="434.9,378.3 420.1,387.5 436.4,400.3 451.2,391.1" fill="url(#q366)"/>
<polygon points="403.9,376.0 388.9,384.3 405.1,395.9 420.1,387.5" fill="url(#q367)"/>
<polygon points="372.8,373.9 357.5,381.3 373.6,391.6 388.9,384.3" fill="url(#q368)"/>
<polygon points="482.3,394.8 467.7,405.1 484.2,420.4 498.8,410.1" fill="url(#q369)"/>
<polygon points="341.7,372.2 326.2,378.6 342.1,387.7 357.5,381.3" fill="url(#q370)"/>
<polygon points="451.2,391.1 436.4,400.3 452.9,414.5 467.7,405.1" fill="url(#q371)"/>
<polygon points="310.5,370.7 294.7,376.2 310.4,384.1 326.2,378.6" fill="url(#q372)"/>
<polygon points="279.2,369.6 263.2,374.2 278.7,380.8 294.7,376.2" fill="url(#q373)"/>
<polygon points="420.1,387.5 405.1,395.9 421.4,408.7 436.4,400.3" fill="url(#q374)"/>
<polygon points="388.9,384.3 373.6,391.6 389.8,403.3 405.1,395.9" fill="url(#q375)"/>
<polygon points="467.7,405.1 452.9,414.5 469.5,429.9 484.2,420.4" fill="url(#q376)"/>
<polygon points="357.5,381.3 342.1,387.7 358.1,398.1 373.6,391.6" fill="url(#q377)"/>
<polygon points="326.2,378.6 310.4,384.1 326.3,393.2 342.1,387.7" fill="url(#q378)"/>
<polygon points="436.4,400.3 421.4,408.7 437.9,422.9 452.9,414.5" fill="url(#q379)"/>
<polygon points="294.7,376.2 278.7,380.8 294.4,388.6 310.4,384.1" fill="url(#q380)"/>
<polygon points="405.1,395.9 389.8,403.3 406.2,416.2 421.4,408.7" fill="url(#q381)"/>
<polygon points="373.6,391.6 358.1,398.1 374.4,409.8 389.8,403.3" fill="url(#q382)"/>
<polygon points="452.9,414.5 437.9,422.9 454.6,438.4 469.5,429.9" fill="url(#q383)"/>
<polygon points="342.1,387.7 326.3,393.2 342.4,403.6 358.1,398.1" fill="url(#q384)"/>
<polygon points="421.4,408.7 406.2,416.2 422.8,430.5 437.9,422.9" fill="url(#q385)"/>
<polygon points="310.4,384.1 294.4,388.6 310.3,397.8 326.3,393.2" fill="url(#q386)"/>
<polygon points="389.8,403.3 374.4,409.8 390.8,422.8 406.2,416.2" fill="url(#q387)"/>
<polygon points="358.1,398.1 342.4,403.6 358.7,415.3 374.4,409.8" fill="url(#q388)"/>
<polygon points="437.9,422.9 422.8,430.5 439.5,446.1 454.6,438.4" fill="url(#q389)"/>
<polygon points="326.3,393.2 310.3,397.8 326.5,408.2 342.4,403.6" fill="url(#q390)"/>
<polygon points="406.2,416.2 390.8,422.8 407.4,437.1 422.8,430.5" fill="url(#q391)"/>
<polygon points="374.4,409.8 358.7,415.3 375.2,428.4 390.8,422.8" fill="url(#q392)"/>
<polygon points="422.8,430.5 407.4,437.1 424.2,452.8 439.5,446.1" fill="url(#q393)"/>
<polygon points="342.4,403.6 326.5,408.2 342.8,420.0 358.7,415.3" fill="url(#q394)"/>
<polygon points="390.8,422.8 375.2,428.4 391.9,442.8 407.4,437.1" fill="url(#q395)"/>
<polygon points="358.7,415.3 342.8,420.0 359.4,433.1 375.2,428.4" fill="url(#q396)"/>
<polygon points="407.4,437.1 391.9,442.8 408.7,458.5 424.2,452.8" fill="url(#q397)"/>
<polygon points="375.2,428.4 359.4,433.1 376.1,447.5 391.9,442.8" fill="url(#q398)"/>
<polygon points="391.9,442.8 376.1,447.5 392.9,463.3 408.7,458.5" fill="url(#q399)"/>
</g>
<path d="M105.7,495.0 L79.5,133.0 L376.3,22.0 L684.8,125.8 L659.4,486.0 M105.7,495.0 L392.3,660.3 L659.4,486.0" stroke="#000" stroke-width="4.0" fill="none" stroke-linejoin="miter" stroke-miterlimit="10"/>
<g fill="#000">
<circle cx="79.5" cy="133.0" r="4.2"/>
<circle cx="84.9" cy="202.6" r="4.2"/>
<circle cx="90.0" cy="272.2" r="4.2"/>
<circle cx="95.0" cy="340.6" r="4.2"/>
<circle cx="100.0" cy="409.8" r="4.2"/>
<circle cx="105.7" cy="495.0" r="4.2"/>
<circle cx="177.5" cy="535.8" r="4.2"/>
<circle cx="249.4" cy="577.4" r="4.2"/>
<circle cx="320.6" cy="618.9" r="4.2"/>
<circle cx="392.3" cy="660.3" r="4.2"/>
<circle cx="459.0" cy="617.1" r="4.2"/>
<circle cx="526.2" cy="573.0" r="4.2"/>
<circle cx="592.6" cy="529.2" r="4.2"/>
<circle cx="659.4" cy="486.0" r="4.2"/>
</g>
<g font-family="Liberation Sans, sans-serif" font-size="18" fill="#2a2a2a">
<text x="71.5" y="126.2" text-anchor="end">1.8</text>
<text x="74.2" y="196.2" text-anchor="end">1.55</text>
<text x="79.9" y="265.7" text-anchor="end">1.3</text>
<text x="85.0" y="335.2" text-anchor="end">1.05</text>
<text x="91.5" y="403.3" text-anchor="end">0.8</text>
<text x="98.1" y="514.1" text-anchor="end">80</text>
<text x="168.5" y="555.5" text-anchor="end">100</text>
<text x="237.6" y="598.2" text-anchor="end">120</text>
<text x="309.5" y="639.0" text-anchor="end">140</text>
<text x="379.9" y="679.9" text-anchor="end">160</text>
<text x="669.5" y="506.6" text-anchor="start">1</text>
<text x="603.0" y="550.4" text-anchor="start">1.5</text>
<text x="535.0" y="593.2" text-anchor="start">2</text>
<text x="468.5" y="636.9" text-anchor="start">2.5</text>
<text x="401.5" y="679.7" text-anchor="start">3</text>
</g>
<g font-family="Liberation Sans, sans-serif" font-size="20" fill="#2a2a2a">
<text x="194.3" y="634.9" text-anchor="middle" textLength="116.5" lengthAdjust="spacingAndGlyphs">B: V (m/min)</text>
<text x="573.1" y="632.1" text-anchor="middle" textLength="112.5" lengthAdjust="spacingAndGlyphs">A: NC (wt%)</text>
<text transform="translate(35.9,329.3) rotate(-90)" text-anchor="middle" font-size="20.5" textLength="72" lengthAdjust="spacingAndGlyphs">Ra (µm)</text>
</g>
</svg>
</body></html>
